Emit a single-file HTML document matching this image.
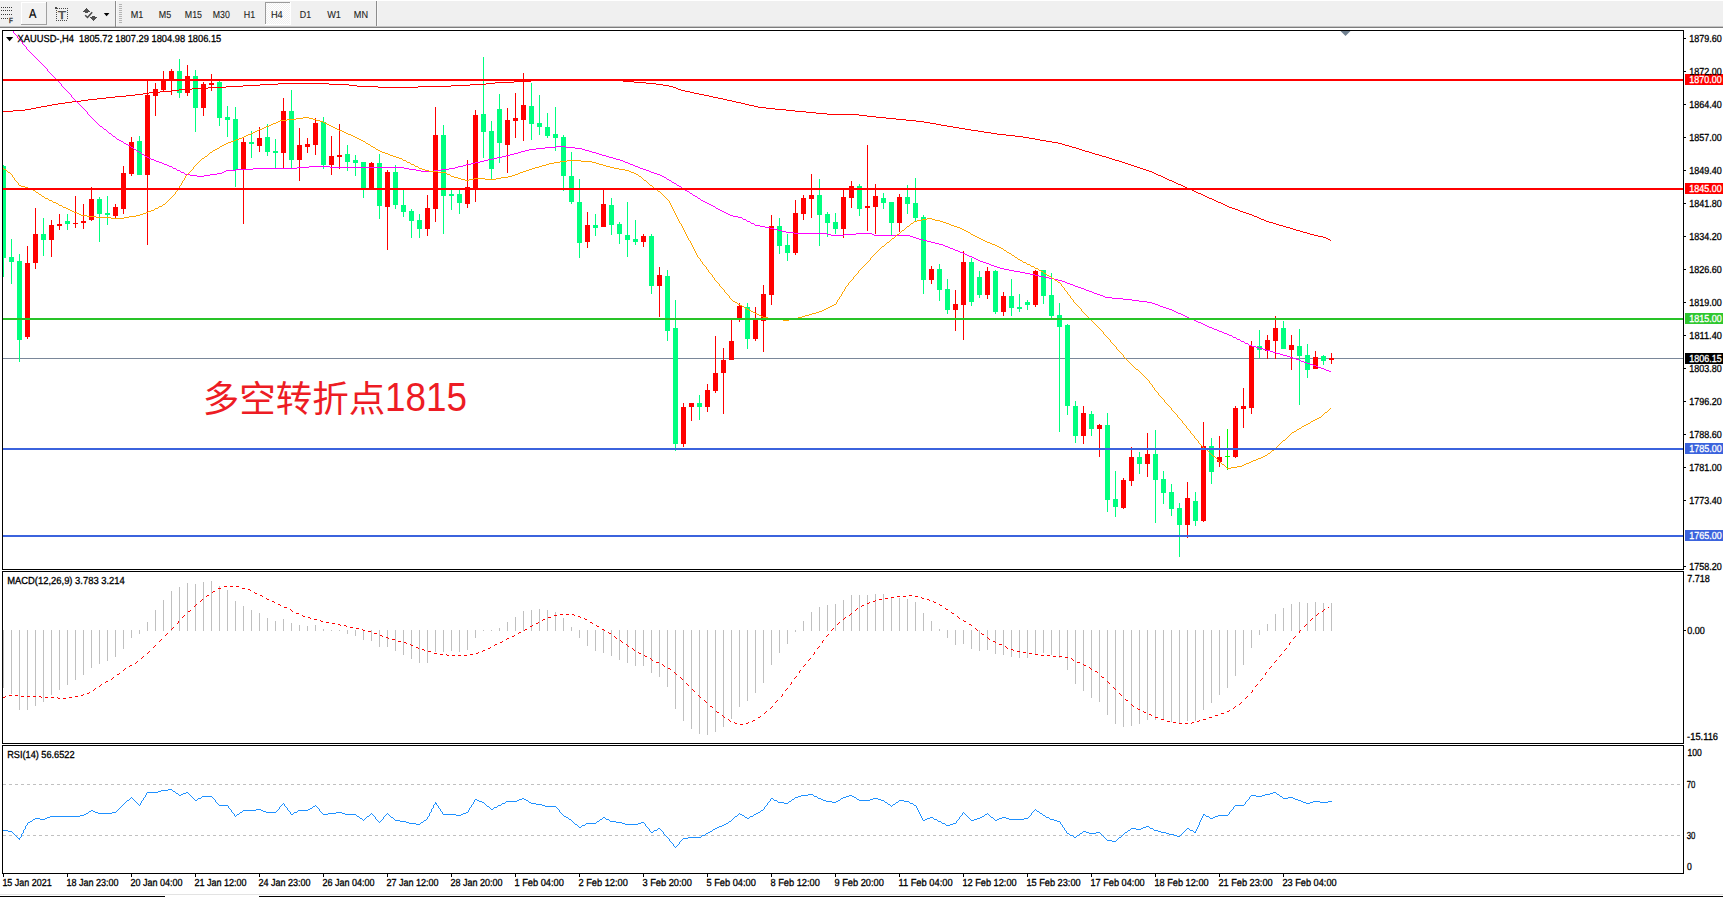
<!DOCTYPE html>
<html lang="zh">
<head>
<meta charset="utf-8">
<title>XAUUSD-,H4</title>
<style>
html,body{margin:0;padding:0;background:#fff;}
body{width:1723px;height:897px;overflow:hidden;}
svg{display:block;font-family:'Liberation Sans', 'Noto Sans CJK SC', sans-serif;}
</style>
</head>
<body>
<svg width="1723" height="897" viewBox="0 0 1723 897">
<defs><clipPath id="cm"><rect x="3" y="31" width="1680" height="538"/></clipPath>
<pattern id="chk" width="2" height="2" patternUnits="userSpaceOnUse"><rect width="2" height="2" fill="#ffffff"/><rect width="1" height="1" fill="#f0f0f0"/><rect x="1" y="1" width="1" height="1" fill="#f0f0f0"/></pattern></defs>
<g id="toolbar" shape-rendering="crispEdges">
<rect x="0" y="0" width="1723" height="1" fill="#ffffff"/>
<rect x="0" y="1" width="1723" height="25" fill="#f0f0f0"/>
<rect x="0" y="26" width="1723" height="1" fill="#c4c4c4"/>
<rect x="0" y="27" width="1723" height="1" fill="#7c7c7c"/>
<rect x="1" y="7" width="1" height="1" fill="#3c3c3c"/>
<rect x="3" y="7" width="1" height="1" fill="#3c3c3c"/>
<rect x="5" y="7" width="1" height="1" fill="#3c3c3c"/>
<rect x="7" y="7" width="1" height="1" fill="#3c3c3c"/>
<rect x="9" y="7" width="1" height="1" fill="#3c3c3c"/>
<rect x="11" y="7" width="1" height="1" fill="#3c3c3c"/>
<rect x="1" y="10" width="1" height="1" fill="#3c3c3c"/>
<rect x="3" y="10" width="1" height="1" fill="#3c3c3c"/>
<rect x="5" y="10" width="1" height="1" fill="#3c3c3c"/>
<rect x="7" y="10" width="1" height="1" fill="#3c3c3c"/>
<rect x="9" y="10" width="1" height="1" fill="#3c3c3c"/>
<rect x="11" y="10" width="1" height="1" fill="#3c3c3c"/>
<rect x="1" y="14" width="1" height="1" fill="#3c3c3c"/>
<rect x="3" y="14" width="1" height="1" fill="#3c3c3c"/>
<rect x="5" y="14" width="1" height="1" fill="#3c3c3c"/>
<rect x="7" y="14" width="1" height="1" fill="#3c3c3c"/>
<rect x="9" y="14" width="1" height="1" fill="#3c3c3c"/>
<rect x="11" y="14" width="1" height="1" fill="#3c3c3c"/>
<rect x="1" y="18" width="1" height="1" fill="#3c3c3c"/>
<rect x="3" y="18" width="1" height="1" fill="#3c3c3c"/>
<rect x="5" y="18" width="1" height="1" fill="#3c3c3c"/>
<rect x="7" y="18" width="1" height="1" fill="#3c3c3c"/>
<rect x="21" y="2" width="26" height="23" fill="#f2f2f2"/>
<rect x="21" y="2" width="26" height="1" fill="#ffffff"/>
<rect x="21" y="2" width="1" height="23" fill="#ffffff"/>
<rect x="21" y="24" width="26" height="1" fill="#a0a0a0"/>
<rect x="46" y="2" width="1" height="23" fill="#a0a0a0"/>
<rect x="59" y="8" width="1" height="1" fill="#4a4a4a"/>
<rect x="61" y="8" width="1" height="1" fill="#4a4a4a"/>
<rect x="63" y="8" width="1" height="1" fill="#4a4a4a"/>
<rect x="65" y="8" width="1" height="1" fill="#4a4a4a"/>
<rect x="67" y="8" width="1" height="1" fill="#4a4a4a"/>
<rect x="56" y="20" width="1" height="1" fill="#4a4a4a"/>
<rect x="58" y="20" width="1" height="1" fill="#4a4a4a"/>
<rect x="60" y="20" width="1" height="1" fill="#4a4a4a"/>
<rect x="62" y="20" width="1" height="1" fill="#4a4a4a"/>
<rect x="64" y="20" width="1" height="1" fill="#4a4a4a"/>
<rect x="66" y="20" width="1" height="1" fill="#4a4a4a"/>
<rect x="56" y="10" width="1" height="1" fill="#4a4a4a"/>
<rect x="67" y="10" width="1" height="1" fill="#4a4a4a"/>
<rect x="56" y="12" width="1" height="1" fill="#4a4a4a"/>
<rect x="67" y="12" width="1" height="1" fill="#4a4a4a"/>
<rect x="56" y="14" width="1" height="1" fill="#4a4a4a"/>
<rect x="67" y="14" width="1" height="1" fill="#4a4a4a"/>
<rect x="56" y="16" width="1" height="1" fill="#4a4a4a"/>
<rect x="67" y="16" width="1" height="1" fill="#4a4a4a"/>
<rect x="56" y="18" width="1" height="1" fill="#4a4a4a"/>
<rect x="67" y="18" width="1" height="1" fill="#4a4a4a"/>
<rect x="55" y="7" width="2" height="2" fill="#4a4a4a"/>
<rect x="57" y="8" width="1" height="1" fill="#4a4a4a"/>
<rect x="115" y="1" width="1" height="26" fill="#8c8c8c"/>
<rect x="116" y="1" width="1" height="25" fill="#f8f8f8"/>
<rect x="119" y="4" width="3" height="1" fill="#b4b4b4"/>
<rect x="119" y="6" width="3" height="1" fill="#b4b4b4"/>
<rect x="119" y="8" width="3" height="1" fill="#b4b4b4"/>
<rect x="119" y="10" width="3" height="1" fill="#b4b4b4"/>
<rect x="119" y="12" width="3" height="1" fill="#b4b4b4"/>
<rect x="119" y="14" width="3" height="1" fill="#b4b4b4"/>
<rect x="119" y="16" width="3" height="1" fill="#b4b4b4"/>
<rect x="119" y="18" width="3" height="1" fill="#b4b4b4"/>
<rect x="119" y="20" width="3" height="1" fill="#b4b4b4"/>
<rect x="119" y="22" width="3" height="1" fill="#b4b4b4"/>
<rect x="265" y="2" width="25" height="22" fill="url(#chk)"/>
<rect x="265" y="2" width="25" height="1" fill="#9a9a9a"/>
<rect x="265" y="2" width="1" height="22" fill="#9a9a9a"/>
<rect x="265" y="24" width="26" height="1" fill="#ffffff"/>
<rect x="290" y="2" width="1" height="23" fill="#ffffff"/>
<rect x="376" y="1" width="1" height="25" fill="#8c8c8c"/>
<rect x="377" y="1" width="1" height="25" fill="#f8f8f8"/>
</g>
<g shape-rendering="crispEdges">
<rect x="86" y="8" width="1" height="1" fill="#4f4f4f"/>
<rect x="85" y="9" width="3" height="1" fill="#4f4f4f"/>
<rect x="84" y="10" width="5" height="1" fill="#4f4f4f"/>
<rect x="83" y="11" width="7" height="1" fill="#4f4f4f"/>
<rect x="85" y="12" width="3" height="1" fill="#4f4f4f"/>
<rect x="92" y="16" width="3" height="1" fill="#4f4f4f"/>
<rect x="90" y="17" width="7" height="1" fill="#4f4f4f"/>
<rect x="91" y="18" width="5" height="1" fill="#4f4f4f"/>
<rect x="92" y="19" width="3" height="1" fill="#4f4f4f"/>
<rect x="93" y="20" width="1" height="1" fill="#4f4f4f"/>
</g>
<path d="M85.2 15.2 L87.5 17.5 L92.2 12.2" fill="none" stroke="#4a4a4a" stroke-width="1.5"/>
<path d="M103.8 13 L109.4 13 L106.6 16.2 Z" fill="#000"/>
<text transform="translate(28.90 18) scale(0.8534 1)" font-size="13" fill="#000" stroke="#000" stroke-width="0.2" text-rendering="geometricPrecision" xml:space="preserve">A</text>
<text transform="translate(9.10 23) scale(0.8638 1)" font-size="7.2" fill="#3c3c3c" stroke="#3c3c3c" stroke-width="0.45" text-rendering="geometricPrecision" xml:space="preserve">F</text>
<text transform="translate(58.10 19) scale(1.1342 1)" font-size="11.4" fill="#4a4a4a" stroke="#4a4a4a" stroke-width="0.5" text-rendering="geometricPrecision" xml:space="preserve">T</text>
<text transform="translate(130.80 18) scale(0.8893 1)" font-size="10.2" fill="#1c1c1c" stroke="#1c1c1c" stroke-width="0.1" text-rendering="geometricPrecision" xml:space="preserve">M1</text>
<text transform="translate(158.80 18) scale(0.8752 1)" font-size="10.2" fill="#1c1c1c" stroke="#1c1c1c" stroke-width="0.1" text-rendering="geometricPrecision" xml:space="preserve">M5</text>
<text transform="translate(184.80 18) scale(0.8670 1)" font-size="10.2" fill="#1c1c1c" stroke="#1c1c1c" stroke-width="0.1" text-rendering="geometricPrecision" xml:space="preserve">M15</text>
<text transform="translate(212.80 18) scale(0.8619 1)" font-size="10.2" fill="#1c1c1c" stroke="#1c1c1c" stroke-width="0.1" text-rendering="geometricPrecision" xml:space="preserve">M30</text>
<text transform="translate(243.70 18) scale(0.8745 1)" font-size="10.2" fill="#1c1c1c" stroke="#1c1c1c" stroke-width="0.1" text-rendering="geometricPrecision" xml:space="preserve">H1</text>
<text transform="translate(270.90 18) scale(0.9052 1)" font-size="10.2" fill="#1c1c1c" stroke="#1c1c1c" stroke-width="0.1" text-rendering="geometricPrecision" xml:space="preserve">H4</text>
<text transform="translate(299.80 18) scale(0.8669 1)" font-size="10.2" fill="#1c1c1c" stroke="#1c1c1c" stroke-width="0.1" text-rendering="geometricPrecision" xml:space="preserve">D1</text>
<text transform="translate(327.20 18) scale(0.9020 1)" font-size="10.2" fill="#1c1c1c" stroke="#1c1c1c" stroke-width="0.1" text-rendering="geometricPrecision" xml:space="preserve">W1</text>
<text transform="translate(353.80 18) scale(0.8953 1)" font-size="10.2" fill="#1c1c1c" stroke="#1c1c1c" stroke-width="0.1" text-rendering="geometricPrecision" xml:space="preserve">MN</text>
<g id="main" shape-rendering="crispEdges">
<rect x="0" y="28" width="1723" height="869" fill="#ffffff"/>
<rect x="3" y="358" width="1680" height="1" fill="#7a8799"/>
<g clip-path="url(#cm)">
<rect x="3" y="165" width="1" height="112" fill="#00ff7f"/>
<rect x="1" y="166" width="5" height="92" fill="#00ff7f"/>
<rect x="11" y="239" width="1" height="45" fill="#00ff7f"/>
<rect x="9" y="257" width="5" height="5" fill="#00ff7f"/>
<rect x="19" y="254" width="1" height="108" fill="#00ff7f"/>
<rect x="17" y="261" width="5" height="79" fill="#00ff7f"/>
<rect x="27" y="246" width="1" height="93" fill="#ff0000"/>
<rect x="25" y="263" width="5" height="74" fill="#ff0000"/>
<rect x="35" y="208" width="1" height="61" fill="#ff0000"/>
<rect x="33" y="234" width="5" height="29" fill="#ff0000"/>
<rect x="43" y="218" width="1" height="38" fill="#00ff7f"/>
<rect x="41" y="234" width="5" height="6" fill="#00ff7f"/>
<rect x="51" y="220" width="1" height="37" fill="#ff0000"/>
<rect x="49" y="225" width="5" height="15" fill="#ff0000"/>
<rect x="59" y="214" width="1" height="16" fill="#ff0000"/>
<rect x="57" y="224" width="5" height="2" fill="#ff0000"/>
<rect x="67" y="214" width="1" height="16" fill="#00ff7f"/>
<rect x="65" y="221" width="5" height="3" fill="#00ff7f"/>
<rect x="75" y="196" width="1" height="32" fill="#ff0000"/>
<rect x="73" y="223" width="5" height="1" fill="#ff0000"/>
<rect x="83" y="204" width="1" height="25" fill="#ff0000"/>
<rect x="81" y="221" width="5" height="2" fill="#ff0000"/>
<rect x="91" y="187" width="1" height="34" fill="#ff0000"/>
<rect x="89" y="199" width="5" height="21" fill="#ff0000"/>
<rect x="99" y="197" width="1" height="45" fill="#00ff7f"/>
<rect x="97" y="199" width="5" height="15" fill="#00ff7f"/>
<rect x="107" y="196" width="1" height="29" fill="#00ff7f"/>
<rect x="105" y="213" width="5" height="2" fill="#00ff7f"/>
<rect x="115" y="204" width="1" height="14" fill="#ff0000"/>
<rect x="113" y="207" width="5" height="9" fill="#ff0000"/>
<rect x="123" y="166" width="1" height="48" fill="#ff0000"/>
<rect x="121" y="173" width="5" height="36" fill="#ff0000"/>
<rect x="131" y="137" width="1" height="39" fill="#ff0000"/>
<rect x="129" y="142" width="5" height="32" fill="#ff0000"/>
<rect x="139" y="136" width="1" height="39" fill="#00ff7f"/>
<rect x="137" y="141" width="5" height="34" fill="#00ff7f"/>
<rect x="147" y="81" width="1" height="164" fill="#ff0000"/>
<rect x="145" y="95" width="5" height="80" fill="#ff0000"/>
<rect x="155" y="83" width="1" height="33" fill="#ff0000"/>
<rect x="153" y="89" width="5" height="7" fill="#ff0000"/>
<rect x="163" y="71" width="1" height="20" fill="#ff0000"/>
<rect x="161" y="80" width="5" height="10" fill="#ff0000"/>
<rect x="171" y="69" width="1" height="26" fill="#ff0000"/>
<rect x="169" y="71" width="5" height="9" fill="#ff0000"/>
<rect x="179" y="59" width="1" height="39" fill="#00ff7f"/>
<rect x="177" y="71" width="5" height="22" fill="#00ff7f"/>
<rect x="187" y="65" width="1" height="31" fill="#ff0000"/>
<rect x="185" y="76" width="5" height="17" fill="#ff0000"/>
<rect x="195" y="70" width="1" height="62" fill="#00ff7f"/>
<rect x="193" y="76" width="5" height="32" fill="#00ff7f"/>
<rect x="203" y="82" width="1" height="34" fill="#ff0000"/>
<rect x="201" y="84" width="5" height="24" fill="#ff0000"/>
<rect x="211" y="74" width="1" height="17" fill="#ff0000"/>
<rect x="209" y="83" width="5" height="2" fill="#ff0000"/>
<rect x="219" y="81" width="1" height="45" fill="#00ff7f"/>
<rect x="217" y="82" width="5" height="36" fill="#00ff7f"/>
<rect x="227" y="106" width="1" height="31" fill="#00ff7f"/>
<rect x="225" y="117" width="5" height="3" fill="#00ff7f"/>
<rect x="235" y="107" width="1" height="80" fill="#00ff7f"/>
<rect x="233" y="119" width="5" height="51" fill="#00ff7f"/>
<rect x="243" y="138" width="1" height="86" fill="#ff0000"/>
<rect x="241" y="142" width="5" height="28" fill="#ff0000"/>
<rect x="251" y="131" width="1" height="27" fill="#00ff7f"/>
<rect x="249" y="142" width="5" height="2" fill="#00ff7f"/>
<rect x="259" y="127" width="1" height="25" fill="#ff0000"/>
<rect x="257" y="138" width="5" height="8" fill="#ff0000"/>
<rect x="267" y="124" width="1" height="32" fill="#00ff7f"/>
<rect x="265" y="137" width="5" height="15" fill="#00ff7f"/>
<rect x="275" y="139" width="1" height="30" fill="#00ff7f"/>
<rect x="273" y="151" width="5" height="2" fill="#00ff7f"/>
<rect x="283" y="98" width="1" height="70" fill="#ff0000"/>
<rect x="281" y="111" width="5" height="42" fill="#ff0000"/>
<rect x="291" y="90" width="1" height="79" fill="#00ff7f"/>
<rect x="289" y="111" width="5" height="49" fill="#00ff7f"/>
<rect x="299" y="128" width="1" height="53" fill="#ff0000"/>
<rect x="297" y="145" width="5" height="15" fill="#ff0000"/>
<rect x="307" y="138" width="1" height="15" fill="#ff0000"/>
<rect x="305" y="144" width="5" height="3" fill="#ff0000"/>
<rect x="315" y="118" width="1" height="37" fill="#ff0000"/>
<rect x="313" y="123" width="5" height="22" fill="#ff0000"/>
<rect x="323" y="117" width="1" height="52" fill="#00ff7f"/>
<rect x="321" y="122" width="5" height="43" fill="#00ff7f"/>
<rect x="331" y="136" width="1" height="39" fill="#ff0000"/>
<rect x="329" y="156" width="5" height="9" fill="#ff0000"/>
<rect x="339" y="124" width="1" height="45" fill="#ff0000"/>
<rect x="337" y="155" width="5" height="2" fill="#ff0000"/>
<rect x="347" y="145" width="1" height="26" fill="#00ff7f"/>
<rect x="345" y="154" width="5" height="8" fill="#00ff7f"/>
<rect x="355" y="155" width="1" height="21" fill="#00ff7f"/>
<rect x="353" y="160" width="5" height="3" fill="#00ff7f"/>
<rect x="363" y="162" width="1" height="36" fill="#00ff7f"/>
<rect x="361" y="162" width="5" height="26" fill="#00ff7f"/>
<rect x="371" y="162" width="1" height="27" fill="#ff0000"/>
<rect x="369" y="163" width="5" height="26" fill="#ff0000"/>
<rect x="379" y="154" width="1" height="65" fill="#00ff7f"/>
<rect x="377" y="163" width="5" height="43" fill="#00ff7f"/>
<rect x="387" y="170" width="1" height="80" fill="#ff0000"/>
<rect x="385" y="172" width="5" height="35" fill="#ff0000"/>
<rect x="395" y="165" width="1" height="44" fill="#00ff7f"/>
<rect x="393" y="172" width="5" height="33" fill="#00ff7f"/>
<rect x="403" y="190" width="1" height="27" fill="#00ff7f"/>
<rect x="401" y="205" width="5" height="7" fill="#00ff7f"/>
<rect x="411" y="209" width="1" height="29" fill="#00ff7f"/>
<rect x="409" y="211" width="5" height="10" fill="#00ff7f"/>
<rect x="419" y="214" width="1" height="24" fill="#00ff7f"/>
<rect x="417" y="220" width="5" height="9" fill="#00ff7f"/>
<rect x="427" y="195" width="1" height="41" fill="#ff0000"/>
<rect x="425" y="208" width="5" height="21" fill="#ff0000"/>
<rect x="435" y="107" width="1" height="115" fill="#ff0000"/>
<rect x="433" y="135" width="5" height="74" fill="#ff0000"/>
<rect x="443" y="125" width="1" height="109" fill="#00ff7f"/>
<rect x="441" y="135" width="5" height="61" fill="#00ff7f"/>
<rect x="451" y="190" width="1" height="20" fill="#00ff7f"/>
<rect x="449" y="194" width="5" height="2" fill="#00ff7f"/>
<rect x="459" y="190" width="1" height="24" fill="#00ff7f"/>
<rect x="457" y="194" width="5" height="9" fill="#00ff7f"/>
<rect x="467" y="160" width="1" height="48" fill="#ff0000"/>
<rect x="465" y="187" width="5" height="17" fill="#ff0000"/>
<rect x="475" y="110" width="1" height="92" fill="#ff0000"/>
<rect x="473" y="115" width="5" height="74" fill="#ff0000"/>
<rect x="483" y="57" width="1" height="101" fill="#00ff7f"/>
<rect x="481" y="114" width="5" height="18" fill="#00ff7f"/>
<rect x="491" y="121" width="1" height="58" fill="#00ff7f"/>
<rect x="489" y="131" width="5" height="38" fill="#00ff7f"/>
<rect x="499" y="94" width="1" height="69" fill="#00ff7f"/>
<rect x="497" y="109" width="5" height="34" fill="#00ff7f"/>
<rect x="507" y="108" width="1" height="65" fill="#ff0000"/>
<rect x="505" y="120" width="5" height="25" fill="#ff0000"/>
<rect x="515" y="93" width="1" height="45" fill="#ff0000"/>
<rect x="513" y="118" width="5" height="3" fill="#ff0000"/>
<rect x="523" y="73" width="1" height="68" fill="#ff0000"/>
<rect x="521" y="105" width="5" height="15" fill="#ff0000"/>
<rect x="531" y="83" width="1" height="57" fill="#00ff7f"/>
<rect x="529" y="106" width="5" height="18" fill="#00ff7f"/>
<rect x="539" y="95" width="1" height="40" fill="#00ff7f"/>
<rect x="537" y="123" width="5" height="4" fill="#00ff7f"/>
<rect x="547" y="113" width="1" height="25" fill="#00ff7f"/>
<rect x="545" y="127" width="5" height="9" fill="#00ff7f"/>
<rect x="555" y="107" width="1" height="44" fill="#00ff7f"/>
<rect x="553" y="134" width="5" height="4" fill="#00ff7f"/>
<rect x="563" y="135" width="1" height="56" fill="#00ff7f"/>
<rect x="561" y="137" width="5" height="39" fill="#00ff7f"/>
<rect x="571" y="152" width="1" height="52" fill="#00ff7f"/>
<rect x="569" y="176" width="5" height="26" fill="#00ff7f"/>
<rect x="579" y="179" width="1" height="79" fill="#00ff7f"/>
<rect x="577" y="202" width="5" height="41" fill="#00ff7f"/>
<rect x="587" y="212" width="1" height="36" fill="#ff0000"/>
<rect x="585" y="225" width="5" height="17" fill="#ff0000"/>
<rect x="595" y="214" width="1" height="22" fill="#00ff7f"/>
<rect x="593" y="225" width="5" height="3" fill="#00ff7f"/>
<rect x="603" y="190" width="1" height="37" fill="#ff0000"/>
<rect x="601" y="204" width="5" height="23" fill="#ff0000"/>
<rect x="611" y="198" width="1" height="37" fill="#00ff7f"/>
<rect x="609" y="205" width="5" height="20" fill="#00ff7f"/>
<rect x="619" y="222" width="1" height="22" fill="#00ff7f"/>
<rect x="617" y="224" width="5" height="10" fill="#00ff7f"/>
<rect x="627" y="202" width="1" height="55" fill="#00ff7f"/>
<rect x="625" y="235" width="5" height="5" fill="#00ff7f"/>
<rect x="635" y="220" width="1" height="25" fill="#00ff7f"/>
<rect x="633" y="239" width="5" height="3" fill="#00ff7f"/>
<rect x="643" y="234" width="1" height="13" fill="#ff0000"/>
<rect x="641" y="236" width="5" height="6" fill="#ff0000"/>
<rect x="651" y="234" width="1" height="60" fill="#00ff7f"/>
<rect x="649" y="236" width="5" height="50" fill="#00ff7f"/>
<rect x="659" y="267" width="1" height="50" fill="#ff0000"/>
<rect x="657" y="275" width="5" height="11" fill="#ff0000"/>
<rect x="667" y="270" width="1" height="71" fill="#00ff7f"/>
<rect x="665" y="276" width="5" height="55" fill="#00ff7f"/>
<rect x="675" y="300" width="1" height="151" fill="#00ff7f"/>
<rect x="673" y="328" width="5" height="116" fill="#00ff7f"/>
<rect x="683" y="403" width="1" height="44" fill="#ff0000"/>
<rect x="681" y="407" width="5" height="37" fill="#ff0000"/>
<rect x="691" y="403" width="1" height="18" fill="#ff0000"/>
<rect x="689" y="403" width="5" height="4" fill="#ff0000"/>
<rect x="699" y="395" width="1" height="25" fill="#00ff7f"/>
<rect x="697" y="403" width="5" height="4" fill="#00ff7f"/>
<rect x="707" y="384" width="1" height="28" fill="#ff0000"/>
<rect x="705" y="390" width="5" height="17" fill="#ff0000"/>
<rect x="715" y="336" width="1" height="57" fill="#ff0000"/>
<rect x="713" y="373" width="5" height="18" fill="#ff0000"/>
<rect x="723" y="348" width="1" height="66" fill="#ff0000"/>
<rect x="721" y="360" width="5" height="13" fill="#ff0000"/>
<rect x="731" y="320" width="1" height="40" fill="#ff0000"/>
<rect x="729" y="341" width="5" height="19" fill="#ff0000"/>
<rect x="739" y="303" width="1" height="19" fill="#ff0000"/>
<rect x="737" y="306" width="5" height="13" fill="#ff0000"/>
<rect x="747" y="303" width="1" height="46" fill="#00ff7f"/>
<rect x="745" y="307" width="5" height="32" fill="#00ff7f"/>
<rect x="755" y="307" width="1" height="34" fill="#ff0000"/>
<rect x="753" y="320" width="5" height="19" fill="#ff0000"/>
<rect x="763" y="285" width="1" height="67" fill="#ff0000"/>
<rect x="761" y="294" width="5" height="27" fill="#ff0000"/>
<rect x="771" y="215" width="1" height="90" fill="#ff0000"/>
<rect x="769" y="226" width="5" height="69" fill="#ff0000"/>
<rect x="779" y="218" width="1" height="36" fill="#00ff7f"/>
<rect x="777" y="226" width="5" height="20" fill="#00ff7f"/>
<rect x="787" y="234" width="1" height="27" fill="#00ff7f"/>
<rect x="785" y="245" width="5" height="8" fill="#00ff7f"/>
<rect x="795" y="200" width="1" height="55" fill="#ff0000"/>
<rect x="793" y="213" width="5" height="40" fill="#ff0000"/>
<rect x="803" y="195" width="1" height="25" fill="#ff0000"/>
<rect x="801" y="198" width="5" height="16" fill="#ff0000"/>
<rect x="811" y="174" width="1" height="44" fill="#ff0000"/>
<rect x="809" y="195" width="5" height="4" fill="#ff0000"/>
<rect x="819" y="179" width="1" height="67" fill="#00ff7f"/>
<rect x="817" y="195" width="5" height="20" fill="#00ff7f"/>
<rect x="827" y="212" width="1" height="25" fill="#00ff7f"/>
<rect x="825" y="214" width="5" height="9" fill="#00ff7f"/>
<rect x="835" y="213" width="1" height="21" fill="#00ff7f"/>
<rect x="833" y="222" width="5" height="7" fill="#00ff7f"/>
<rect x="843" y="190" width="1" height="48" fill="#ff0000"/>
<rect x="841" y="197" width="5" height="32" fill="#ff0000"/>
<rect x="851" y="181" width="1" height="27" fill="#ff0000"/>
<rect x="849" y="186" width="5" height="12" fill="#ff0000"/>
<rect x="859" y="184" width="1" height="32" fill="#00ff7f"/>
<rect x="857" y="186" width="5" height="23" fill="#00ff7f"/>
<rect x="867" y="145" width="1" height="86" fill="#ff0000"/>
<rect x="865" y="206" width="5" height="2" fill="#ff0000"/>
<rect x="875" y="184" width="1" height="50" fill="#ff0000"/>
<rect x="873" y="196" width="5" height="11" fill="#ff0000"/>
<rect x="883" y="193" width="1" height="16" fill="#00ff7f"/>
<rect x="881" y="198" width="5" height="5" fill="#00ff7f"/>
<rect x="891" y="202" width="1" height="34" fill="#00ff7f"/>
<rect x="889" y="202" width="5" height="21" fill="#00ff7f"/>
<rect x="899" y="194" width="1" height="38" fill="#ff0000"/>
<rect x="897" y="197" width="5" height="26" fill="#ff0000"/>
<rect x="907" y="185" width="1" height="29" fill="#00ff7f"/>
<rect x="905" y="197" width="5" height="7" fill="#00ff7f"/>
<rect x="915" y="178" width="1" height="43" fill="#00ff7f"/>
<rect x="913" y="203" width="5" height="15" fill="#00ff7f"/>
<rect x="923" y="215" width="1" height="79" fill="#00ff7f"/>
<rect x="921" y="217" width="5" height="63" fill="#00ff7f"/>
<rect x="931" y="266" width="1" height="18" fill="#ff0000"/>
<rect x="929" y="269" width="5" height="11" fill="#ff0000"/>
<rect x="939" y="264" width="1" height="37" fill="#00ff7f"/>
<rect x="937" y="269" width="5" height="21" fill="#00ff7f"/>
<rect x="947" y="279" width="1" height="35" fill="#00ff7f"/>
<rect x="945" y="289" width="5" height="21" fill="#00ff7f"/>
<rect x="955" y="290" width="1" height="41" fill="#ff0000"/>
<rect x="953" y="304" width="5" height="6" fill="#ff0000"/>
<rect x="963" y="251" width="1" height="89" fill="#ff0000"/>
<rect x="961" y="262" width="5" height="43" fill="#ff0000"/>
<rect x="971" y="258" width="1" height="48" fill="#00ff7f"/>
<rect x="969" y="262" width="5" height="40" fill="#00ff7f"/>
<rect x="979" y="271" width="1" height="27" fill="#00ff7f"/>
<rect x="977" y="277" width="5" height="18" fill="#00ff7f"/>
<rect x="987" y="267" width="1" height="32" fill="#ff0000"/>
<rect x="985" y="271" width="5" height="24" fill="#ff0000"/>
<rect x="995" y="270" width="1" height="44" fill="#00ff7f"/>
<rect x="993" y="271" width="5" height="41" fill="#00ff7f"/>
<rect x="1003" y="292" width="1" height="24" fill="#ff0000"/>
<rect x="1001" y="296" width="5" height="16" fill="#ff0000"/>
<rect x="1011" y="279" width="1" height="37" fill="#00ff7f"/>
<rect x="1009" y="296" width="5" height="12" fill="#00ff7f"/>
<rect x="1019" y="294" width="1" height="18" fill="#00ff7f"/>
<rect x="1017" y="307" width="5" height="2" fill="#00ff7f"/>
<rect x="1027" y="300" width="1" height="10" fill="#00ff7f"/>
<rect x="1025" y="302" width="5" height="3" fill="#00ff7f"/>
<rect x="1035" y="270" width="1" height="37" fill="#ff0000"/>
<rect x="1033" y="271" width="5" height="34" fill="#ff0000"/>
<rect x="1043" y="270" width="1" height="34" fill="#00ff7f"/>
<rect x="1041" y="270" width="5" height="26" fill="#00ff7f"/>
<rect x="1051" y="273" width="1" height="45" fill="#00ff7f"/>
<rect x="1049" y="295" width="5" height="21" fill="#00ff7f"/>
<rect x="1059" y="303" width="1" height="129" fill="#00ff7f"/>
<rect x="1057" y="315" width="5" height="12" fill="#00ff7f"/>
<rect x="1067" y="324" width="1" height="91" fill="#00ff7f"/>
<rect x="1065" y="325" width="5" height="81" fill="#00ff7f"/>
<rect x="1075" y="401" width="1" height="42" fill="#00ff7f"/>
<rect x="1073" y="406" width="5" height="30" fill="#00ff7f"/>
<rect x="1083" y="406" width="1" height="38" fill="#ff0000"/>
<rect x="1081" y="413" width="5" height="23" fill="#ff0000"/>
<rect x="1091" y="411" width="1" height="25" fill="#00ff7f"/>
<rect x="1089" y="414" width="5" height="15" fill="#00ff7f"/>
<rect x="1099" y="424" width="1" height="33" fill="#ff0000"/>
<rect x="1097" y="425" width="5" height="4" fill="#ff0000"/>
<rect x="1107" y="413" width="1" height="99" fill="#00ff7f"/>
<rect x="1105" y="425" width="5" height="75" fill="#00ff7f"/>
<rect x="1115" y="471" width="1" height="46" fill="#00ff7f"/>
<rect x="1113" y="499" width="5" height="8" fill="#00ff7f"/>
<rect x="1123" y="478" width="1" height="31" fill="#ff0000"/>
<rect x="1121" y="480" width="5" height="28" fill="#ff0000"/>
<rect x="1131" y="447" width="1" height="39" fill="#ff0000"/>
<rect x="1129" y="457" width="5" height="24" fill="#ff0000"/>
<rect x="1139" y="452" width="1" height="22" fill="#00ff7f"/>
<rect x="1137" y="457" width="5" height="7" fill="#00ff7f"/>
<rect x="1147" y="433" width="1" height="44" fill="#ff0000"/>
<rect x="1145" y="454" width="5" height="10" fill="#ff0000"/>
<rect x="1155" y="430" width="1" height="93" fill="#00ff7f"/>
<rect x="1153" y="454" width="5" height="26" fill="#00ff7f"/>
<rect x="1163" y="471" width="1" height="33" fill="#00ff7f"/>
<rect x="1161" y="479" width="5" height="14" fill="#00ff7f"/>
<rect x="1171" y="484" width="1" height="32" fill="#00ff7f"/>
<rect x="1169" y="492" width="5" height="17" fill="#00ff7f"/>
<rect x="1179" y="503" width="1" height="54" fill="#00ff7f"/>
<rect x="1177" y="508" width="5" height="17" fill="#00ff7f"/>
<rect x="1187" y="482" width="1" height="56" fill="#ff0000"/>
<rect x="1185" y="498" width="5" height="27" fill="#ff0000"/>
<rect x="1195" y="492" width="1" height="34" fill="#00ff7f"/>
<rect x="1193" y="501" width="5" height="20" fill="#00ff7f"/>
<rect x="1203" y="422" width="1" height="100" fill="#ff0000"/>
<rect x="1201" y="446" width="5" height="75" fill="#ff0000"/>
<rect x="1211" y="438" width="1" height="46" fill="#00ff7f"/>
<rect x="1209" y="446" width="5" height="26" fill="#00ff7f"/>
<rect x="1219" y="436" width="1" height="31" fill="#ff0000"/>
<rect x="1217" y="457" width="5" height="5" fill="#ff0000"/>
<rect x="1227" y="429" width="1" height="41" fill="#00ff00"/>
<rect x="1225" y="456" width="5" height="1" fill="#00ff00"/>
<rect x="1235" y="406" width="1" height="52" fill="#ff0000"/>
<rect x="1233" y="408" width="5" height="49" fill="#ff0000"/>
<rect x="1243" y="388" width="1" height="40" fill="#ff0000"/>
<rect x="1241" y="406" width="5" height="3" fill="#ff0000"/>
<rect x="1251" y="341" width="1" height="73" fill="#ff0000"/>
<rect x="1249" y="346" width="5" height="62" fill="#ff0000"/>
<rect x="1259" y="330" width="1" height="28" fill="#00ff7f"/>
<rect x="1257" y="346" width="5" height="4" fill="#00ff7f"/>
<rect x="1267" y="335" width="1" height="24" fill="#ff0000"/>
<rect x="1265" y="340" width="5" height="11" fill="#ff0000"/>
<rect x="1275" y="316" width="1" height="43" fill="#ff0000"/>
<rect x="1273" y="328" width="5" height="13" fill="#ff0000"/>
<rect x="1283" y="321" width="1" height="28" fill="#00ff7f"/>
<rect x="1281" y="328" width="5" height="21" fill="#00ff7f"/>
<rect x="1291" y="335" width="1" height="35" fill="#ff0000"/>
<rect x="1289" y="345" width="5" height="5" fill="#ff0000"/>
<rect x="1299" y="329" width="1" height="76" fill="#00ff7f"/>
<rect x="1297" y="346" width="5" height="10" fill="#00ff7f"/>
<rect x="1307" y="344" width="1" height="34" fill="#00ff7f"/>
<rect x="1305" y="355" width="5" height="15" fill="#00ff7f"/>
<rect x="1315" y="351" width="1" height="18" fill="#ff0000"/>
<rect x="1313" y="357" width="5" height="12" fill="#ff0000"/>
<rect x="1323" y="355" width="1" height="10" fill="#00ff7f"/>
<rect x="1321" y="356" width="5" height="5" fill="#00ff7f"/>
<rect x="1331" y="353" width="1" height="11" fill="#ff0000"/>
<rect x="1329" y="358" width="5" height="2" fill="#ff0000"/>
</g>
<g clip-path="url(#cm)">
<path d="M531 80h92v1h-92zM514 81h17v1h-17zM623 81h11v1h-11zM495 82h19v1h-19zM634 82h12v1h-12zM278 83h51v1h-51zM486 83h9v1h-9zM646 83h10v1h-10zM260 84h18v1h-18zM329 84h20v1h-20zM470 84h16v1h-16zM656 84h7v1h-7zM243 85h17v1h-17zM349 85h8v1h-8zM451 85h19v1h-19zM663 85h6v1h-6zM226 86h17v1h-17zM357 86h21v1h-21zM418 86h33v1h-33zM669 86h4v1h-4zM208 87h18v1h-18zM378 87h40v1h-40zM673 87h3v1h-3zM192 88h16v1h-16zM676 88h2v1h-2zM179 89h13v1h-13zM678 89h3v1h-3zM172 90h7v1h-7zM681 90h4v1h-4zM160 91h12v1h-12zM685 91h5v1h-5zM149 92h11v1h-11zM690 92h4v1h-4zM143 93h6v1h-6zM694 93h5v1h-5zM135 94h8v1h-8zM699 94h5v1h-5zM126 95h9v1h-9zM704 95h5v1h-5zM115 96h11v1h-11zM709 96h4v1h-4zM106 97h9v1h-9zM713 97h5v1h-5zM97 98h9v1h-9zM718 98h5v1h-5zM88 99h9v1h-9zM723 99h4v1h-4zM81 100h7v1h-7zM727 100h5v1h-5zM72 101h9v1h-9zM732 101h4v1h-4zM65 102h7v1h-7zM736 102h5v1h-5zM58 103h7v1h-7zM741 103h4v1h-4zM52 104h6v1h-6zM745 104h4v1h-4zM47 105h5v1h-5zM749 105h5v1h-5zM41 106h6v1h-6zM754 106h4v1h-4zM36 107h5v1h-5zM758 107h8v1h-8zM31 108h5v1h-5zM766 108h9v1h-9zM25 109h6v1h-6zM775 109h11v1h-11zM13 110h12v1h-12zM786 110h9v1h-9zM3 111h10v1h-10zM795 111h11v1h-11zM806 112h10v1h-10zM816 113h11v1h-11zM827 114h32v1h-32zM859 115h8v1h-8zM867 116h9v1h-9zM876 117h10v1h-10zM886 118h10v1h-10zM896 119h10v1h-10zM906 120h10v1h-10zM916 121h8v1h-8zM924 122h6v1h-6zM930 123h6v1h-6zM936 124h5v1h-5zM941 125h6v1h-6zM947 126h6v1h-6zM953 127h6v1h-6zM959 128h6v1h-6zM965 129h6v1h-6zM971 130h7v1h-7zM978 131h6v1h-6zM984 132h7v1h-7zM991 133h6v1h-6zM997 134h9v1h-9zM1006 135h9v1h-9zM1015 136h8v1h-8zM1023 137h6v1h-6zM1029 138h6v1h-6zM1035 139h5v1h-5zM1040 140h6v1h-6zM1046 141h6v1h-6zM1052 142h6v1h-6zM1058 143h4v1h-4zM1062 144h3v1h-3zM1065 145h4v1h-4zM1069 146h3v1h-3zM1072 147h4v1h-4zM1076 148h3v1h-3zM1079 149h3v1h-3zM1082 150h3v1h-3zM1085 151h4v1h-4zM1089 152h3v1h-3zM1092 153h3v1h-3zM1095 154h4v1h-4zM1099 155h3v1h-3zM1102 156h4v1h-4zM1106 157h3v1h-3zM1109 158h3v1h-3zM1112 159h3v1h-3zM1115 160h4v1h-4zM1119 161h3v1h-3zM1122 162h3v1h-3zM1125 163h3v1h-3zM1128 164h3v1h-3zM1131 165h3v1h-3zM1134 166h3v1h-3zM1137 167h3v1h-3zM1140 168h3v1h-3zM1143 169h3v1h-3zM1146 170h3v1h-3zM1149 171h3v1h-3zM1152 172h2v1h-2zM1154 173h2v1h-2zM1156 174h2v1h-2zM1158 175h3v1h-3zM1161 176h2v1h-2zM1163 177h2v1h-2zM1165 178h2v1h-2zM1167 179h2v1h-2zM1169 180h3v1h-3zM1172 181h2v1h-2zM1174 182h2v1h-2zM1176 183h2v1h-2zM1178 184h3v1h-3zM1181 185h2v1h-2zM1183 186h2v1h-2zM1185 187h2v1h-2zM1187 188h3v1h-3zM1190 189h2v1h-2zM1192 190h2v1h-2zM1194 191h2v1h-2zM1196 192h2v1h-2zM1198 193h3v1h-3zM1201 194h2v1h-2zM1203 195h2v1h-2zM1205 196h2v1h-2zM1207 197h2v1h-2zM1209 198h3v1h-3zM1212 199h2v1h-2zM1214 200h2v1h-2zM1216 201h2v1h-2zM1218 202h3v1h-3zM1221 203h2v1h-2zM1223 204h2v1h-2zM1225 205h2v1h-2zM1227 206h2v1h-2zM1229 207h3v1h-3zM1232 208h3v1h-3zM1235 209h3v1h-3zM1238 210h2v1h-2zM1240 211h3v1h-3zM1243 212h3v1h-3zM1246 213h3v1h-3zM1249 214h3v1h-3zM1252 215h2v1h-2zM1254 216h3v1h-3zM1257 217h2v1h-2zM1259 218h2v1h-2zM1261 219h3v1h-3zM1264 220h2v1h-2zM1266 221h3v1h-3zM1269 222h4v1h-4zM1273 223h3v1h-3zM1276 224h3v1h-3zM1279 225h4v1h-4zM1283 226h3v1h-3zM1286 227h4v1h-4zM1290 228h3v1h-3zM1293 229h3v1h-3zM1296 230h4v1h-4zM1300 231h3v1h-3zM1303 232h4v1h-4zM1307 233h3v1h-3zM1310 234h4v1h-4zM1314 235h4v1h-4zM1318 236h5v1h-5zM1323 237h3v1h-3zM1326 238h2v1h-2zM1328 239h2v1h-2zM1330 240h1v1h-1z" fill="#ff0000"/>
<path d="M11 29h1v1h-1zM12 30h1v1h-1zM13 31h1v1h-1zM13 32h1v1h-1zM14 33h1v1h-1zM15 34h1v1h-1zM16 35h1v1h-1zM17 36h1v1h-1zM17 37h1v1h-1zM18 38h1v1h-1zM19 39h1v1h-1zM20 40h1v1h-1zM21 41h1v1h-1zM22 42h1v1h-1zM22 43h1v1h-1zM23 44h1v1h-1zM24 45h1v1h-1zM25 46h1v1h-1zM26 47h1v1h-1zM26 48h1v1h-1zM27 49h1v1h-1zM28 50h1v1h-1zM29 51h1v1h-1zM30 52h1v1h-1zM31 53h1v1h-1zM32 54h1v1h-1zM33 55h1v1h-1zM34 56h1v1h-1zM35 57h1v1h-1zM36 58h1v1h-1zM37 59h1v1h-1zM38 60h1v1h-1zM39 61h1v1h-1zM40 62h1v1h-1zM41 63h1v1h-1zM42 64h1v1h-1zM43 65h1v1h-1zM44 66h1v1h-1zM45 67h1v1h-1zM46 68h1v1h-1zM47 69h1v1h-1zM47 70h1v1h-1zM48 71h1v1h-1zM49 72h1v1h-1zM50 73h1v1h-1zM51 74h1v1h-1zM52 75h1v1h-1zM53 76h1v1h-1zM54 77h1v1h-1zM55 78h1v1h-1zM56 79h1v1h-1zM57 80h1v1h-1zM58 81h1v1h-1zM59 82h1v1h-1zM60 83h1v1h-1zM61 84h1v1h-1zM61 85h1v1h-1zM62 86h1v1h-1zM63 87h1v1h-1zM64 88h1v1h-1zM65 89h1v1h-1zM66 90h1v1h-1zM67 91h1v1h-1zM68 92h1v1h-1zM69 93h1v1h-1zM70 94h1v1h-1zM71 95h1v1h-1zM71 96h1v1h-1zM72 97h1v1h-1zM73 98h1v1h-1zM74 99h1v1h-1zM75 100h1v1h-1zM76 101h1v1h-1zM77 102h1v1h-1zM78 103h1v1h-1zM79 104h1v1h-1zM80 105h1v1h-1zM81 106h1v1h-1zM82 107h1v1h-1zM83 108h1v1h-1zM84 109h1v1h-1zM85 110h1v1h-1zM86 111h1v1h-1zM87 112h1v1h-1zM87 113h1v1h-1zM88 114h1v1h-1zM89 115h1v1h-1zM90 116h1v1h-1zM91 117h1v1h-1zM92 118h1v1h-1zM93 119h1v1h-1zM94 120h1v1h-1zM95 121h1v1h-1zM96 122h1v1h-1zM97 123h1v1h-1zM98 124h1v1h-1zM99 125h1v1h-1zM100 126h2v1h-2zM102 127h1v1h-1zM103 128h1v1h-1zM104 129h2v1h-2zM106 130h1v1h-1zM107 131h1v1h-1zM108 132h1v1h-1zM109 133h2v1h-2zM111 134h1v1h-1zM112 135h1v1h-1zM113 136h2v1h-2zM115 137h1v1h-1zM116 138h1v1h-1zM117 139h2v1h-2zM119 140h2v1h-2zM121 141h2v1h-2zM123 142h1v1h-1zM124 143h2v1h-2zM126 144h2v1h-2zM128 145h2v1h-2zM130 146h1v1h-1zM556 146h10v1h-10zM131 147h2v1h-2zM545 147h11v1h-11zM566 147h9v1h-9zM133 148h1v1h-1zM536 148h9v1h-9zM575 148h7v1h-7zM134 149h2v1h-2zM529 149h7v1h-7zM582 149h3v1h-3zM136 150h1v1h-1zM525 150h4v1h-4zM585 150h4v1h-4zM137 151h2v1h-2zM521 151h4v1h-4zM589 151h3v1h-3zM139 152h2v1h-2zM518 152h3v1h-3zM592 152h4v1h-4zM141 153h1v1h-1zM514 153h4v1h-4zM596 153h3v1h-3zM142 154h2v1h-2zM510 154h4v1h-4zM599 154h3v1h-3zM144 155h1v1h-1zM506 155h4v1h-4zM602 155h4v1h-4zM145 156h2v1h-2zM502 156h4v1h-4zM606 156h3v1h-3zM147 157h2v1h-2zM497 157h5v1h-5zM609 157h4v1h-4zM149 158h2v1h-2zM493 158h4v1h-4zM613 158h3v1h-3zM151 159h3v1h-3zM488 159h5v1h-5zM616 159h4v1h-4zM154 160h2v1h-2zM484 160h4v1h-4zM620 160h3v1h-3zM156 161h3v1h-3zM480 161h4v1h-4zM623 161h2v1h-2zM159 162h3v1h-3zM475 162h5v1h-5zM625 162h3v1h-3zM162 163h2v1h-2zM471 163h4v1h-4zM628 163h2v1h-2zM164 164h3v1h-3zM466 164h5v1h-5zM630 164h3v1h-3zM167 165h2v1h-2zM463 165h3v1h-3zM633 165h2v1h-2zM169 166h3v1h-3zM309 166h21v1h-21zM458 166h5v1h-5zM635 166h3v1h-3zM172 167h1v1h-1zM297 167h12v1h-12zM330 167h74v1h-74zM455 167h3v1h-3zM638 167h2v1h-2zM173 168h3v1h-3zM253 168h44v1h-44zM404 168h5v1h-5zM449 168h6v1h-6zM640 168h3v1h-3zM176 169h1v1h-1zM236 169h17v1h-17zM409 169h7v1h-7zM441 169h8v1h-8zM643 169h3v1h-3zM177 170h3v1h-3zM226 170h10v1h-10zM416 170h5v1h-5zM434 170h7v1h-7zM646 170h3v1h-3zM180 171h1v1h-1zM224 171h2v1h-2zM421 171h13v1h-13zM649 171h2v1h-2zM181 172h3v1h-3zM222 172h2v1h-2zM651 172h3v1h-3zM184 173h1v1h-1zM217 173h5v1h-5zM654 173h3v1h-3zM185 174h5v1h-5zM210 174h7v1h-7zM657 174h3v1h-3zM190 175h7v1h-7zM204 175h6v1h-6zM660 175h2v1h-2zM197 176h7v1h-7zM662 176h2v1h-2zM664 177h2v1h-2zM666 178h1v1h-1zM667 179h2v1h-2zM669 180h2v1h-2zM671 181h1v1h-1zM672 182h2v1h-2zM674 183h2v1h-2zM676 184h1v1h-1zM677 185h2v1h-2zM679 186h2v1h-2zM681 187h1v1h-1zM682 188h2v1h-2zM684 189h1v1h-1zM685 190h2v1h-2zM687 191h2v1h-2zM689 192h1v1h-1zM690 193h2v1h-2zM692 194h1v1h-1zM693 195h2v1h-2zM695 196h2v1h-2zM697 197h1v1h-1zM698 198h2v1h-2zM700 199h1v1h-1zM701 200h2v1h-2zM703 201h2v1h-2zM705 202h2v1h-2zM707 203h2v1h-2zM709 204h2v1h-2zM711 205h2v1h-2zM713 206h2v1h-2zM715 207h1v1h-1zM716 208h2v1h-2zM718 209h2v1h-2zM720 210h2v1h-2zM722 211h2v1h-2zM724 212h2v1h-2zM726 213h2v1h-2zM728 214h2v1h-2zM730 215h3v1h-3zM733 216h5v1h-5zM738 217h4v1h-4zM742 218h1v1h-1zM743 219h3v1h-3zM746 220h1v1h-1zM747 221h3v1h-3zM750 222h1v1h-1zM751 223h3v1h-3zM754 224h1v1h-1zM755 225h5v1h-5zM760 226h5v1h-5zM765 227h5v1h-5zM770 228h4v1h-4zM774 229h4v1h-4zM778 230h4v1h-4zM782 231h4v1h-4zM786 232h8v1h-8zM794 233h33v1h-33zM856 233h16v1h-16zM827 234h4v1h-4zM844 234h12v1h-12zM872 234h2v1h-2zM831 235h13v1h-13zM874 235h36v1h-36zM910 236h3v1h-3zM913 237h3v1h-3zM916 238h3v1h-3zM919 239h4v1h-4zM923 240h4v1h-4zM927 241h4v1h-4zM931 242h4v1h-4zM935 243h4v1h-4zM939 244h4v1h-4zM943 245h2v1h-2zM945 246h3v1h-3zM948 247h2v1h-2zM950 248h3v1h-3zM953 249h2v1h-2zM955 250h3v1h-3zM958 251h2v1h-2zM960 252h3v1h-3zM963 253h2v1h-2zM965 254h2v1h-2zM967 255h2v1h-2zM969 256h3v1h-3zM972 257h2v1h-2zM974 258h2v1h-2zM976 259h2v1h-2zM978 260h2v1h-2zM980 261h3v1h-3zM983 262h3v1h-3zM986 263h3v1h-3zM989 264h2v1h-2zM991 265h3v1h-3zM994 266h3v1h-3zM997 267h3v1h-3zM1000 268h4v1h-4zM1004 269h5v1h-5zM1009 270h5v1h-5zM1014 271h6v1h-6zM1020 272h5v1h-5zM1025 273h5v1h-5zM1030 274h5v1h-5zM1035 275h4v1h-4zM1039 276h5v1h-5zM1044 277h5v1h-5zM1049 278h5v1h-5zM1054 279h4v1h-4zM1058 280h4v1h-4zM1062 281h3v1h-3zM1065 282h2v1h-2zM1067 283h3v1h-3zM1070 284h3v1h-3zM1073 285h2v1h-2zM1075 286h3v1h-3zM1078 287h3v1h-3zM1081 288h3v1h-3zM1084 289h2v1h-2zM1086 290h3v1h-3zM1089 291h3v1h-3zM1092 292h2v1h-2zM1094 293h3v1h-3zM1097 294h3v1h-3zM1100 295h3v1h-3zM1103 296h2v1h-2zM1105 297h7v1h-7zM1112 298h11v1h-11zM1123 299h9v1h-9zM1132 300h7v1h-7zM1139 301h8v1h-8zM1147 302h5v1h-5zM1152 303h3v1h-3zM1155 304h3v1h-3zM1158 305h2v1h-2zM1160 306h3v1h-3zM1163 307h3v1h-3zM1166 308h3v1h-3zM1169 309h3v1h-3zM1172 310h2v1h-2zM1174 311h2v1h-2zM1176 312h2v1h-2zM1178 313h3v1h-3zM1181 314h2v1h-2zM1183 315h2v1h-2zM1185 316h2v1h-2zM1187 317h2v1h-2zM1189 318h3v1h-3zM1192 319h2v1h-2zM1194 320h2v1h-2zM1196 321h2v1h-2zM1198 322h3v1h-3zM1201 323h2v1h-2zM1203 324h2v1h-2zM1205 325h2v1h-2zM1207 326h2v1h-2zM1209 327h3v1h-3zM1212 328h2v1h-2zM1214 329h3v1h-3zM1217 330h2v1h-2zM1219 331h3v1h-3zM1222 332h2v1h-2zM1224 333h3v1h-3zM1227 334h2v1h-2zM1229 335h3v1h-3zM1232 336h1v1h-1zM1233 337h3v1h-3zM1236 338h1v1h-1zM1237 339h3v1h-3zM1240 340h1v1h-1zM1241 341h3v1h-3zM1244 342h1v1h-1zM1245 343h3v1h-3zM1248 344h1v1h-1zM1249 345h3v1h-3zM1252 346h4v1h-4zM1256 347h3v1h-3zM1259 348h4v1h-4zM1263 349h3v1h-3zM1266 350h4v1h-4zM1270 351h3v1h-3zM1273 352h3v1h-3zM1276 353h4v1h-4zM1280 354h3v1h-3zM1283 355h4v1h-4zM1287 356h3v1h-3zM1290 357h3v1h-3zM1293 358h3v1h-3zM1296 359h3v1h-3zM1299 360h2v1h-2zM1301 361h3v1h-3zM1304 362h3v1h-3zM1307 363h3v1h-3zM1310 364h3v1h-3zM1313 365h3v1h-3zM1316 366h2v1h-2zM1318 367h3v1h-3zM1321 368h3v1h-3zM1324 369h2v1h-2zM1326 370h3v1h-3zM1329 371h2v1h-2z" fill="#ff00ff"/>
<path d="M303 117h6v1h-6zM296 118h7v1h-7zM309 118h4v1h-4zM287 119h9v1h-9zM313 119h3v1h-3zM280 120h7v1h-7zM316 120h4v1h-4zM278 121h2v1h-2zM320 121h3v1h-3zM276 122h2v1h-2zM323 122h2v1h-2zM273 123h3v1h-3zM325 123h2v1h-2zM271 124h2v1h-2zM327 124h2v1h-2zM269 125h2v1h-2zM329 125h2v1h-2zM266 126h3v1h-3zM331 126h2v1h-2zM264 127h2v1h-2zM333 127h2v1h-2zM262 128h2v1h-2zM335 128h2v1h-2zM259 129h3v1h-3zM337 129h2v1h-2zM257 130h2v1h-2zM339 130h3v1h-3zM255 131h2v1h-2zM342 131h2v1h-2zM253 132h2v1h-2zM344 132h2v1h-2zM251 133h2v1h-2zM346 133h2v1h-2zM248 134h3v1h-3zM348 134h3v1h-3zM246 135h2v1h-2zM351 135h2v1h-2zM244 136h2v1h-2zM353 136h2v1h-2zM242 137h2v1h-2zM355 137h2v1h-2zM239 138h3v1h-3zM357 138h2v1h-2zM236 139h3v1h-3zM359 139h2v1h-2zM234 140h2v1h-2zM361 140h2v1h-2zM231 141h3v1h-3zM363 141h2v1h-2zM228 142h3v1h-3zM365 142h1v1h-1zM226 143h2v1h-2zM366 143h2v1h-2zM224 144h2v1h-2zM368 144h2v1h-2zM222 145h2v1h-2zM370 145h1v1h-1zM220 146h2v1h-2zM371 146h2v1h-2zM219 147h1v1h-1zM373 147h2v1h-2zM217 148h2v1h-2zM375 148h1v1h-1zM215 149h2v1h-2zM376 149h2v1h-2zM213 150h2v1h-2zM378 150h2v1h-2zM212 151h1v1h-1zM380 151h2v1h-2zM210 152h2v1h-2zM382 152h3v1h-3zM209 153h1v1h-1zM385 153h3v1h-3zM208 154h1v1h-1zM388 154h2v1h-2zM207 155h1v1h-1zM390 155h3v1h-3zM205 156h2v1h-2zM393 156h3v1h-3zM204 157h1v1h-1zM396 157h3v1h-3zM202 158h2v1h-2zM399 158h3v1h-3zM201 159h1v1h-1zM402 159h1v1h-1zM200 160h1v1h-1zM403 160h3v1h-3zM567 160h14v1h-14zM199 161h1v1h-1zM406 161h1v1h-1zM560 161h7v1h-7zM581 161h11v1h-11zM198 162h1v1h-1zM407 162h3v1h-3zM554 162h6v1h-6zM592 162h4v1h-4zM197 163h1v1h-1zM410 163h1v1h-1zM549 163h5v1h-5zM596 163h3v1h-3zM196 164h1v1h-1zM411 164h3v1h-3zM546 164h3v1h-3zM599 164h4v1h-4zM195 165h1v1h-1zM414 165h1v1h-1zM542 165h4v1h-4zM603 165h3v1h-3zM194 166h1v1h-1zM415 166h3v1h-3zM539 166h3v1h-3zM606 166h4v1h-4zM193 167h1v1h-1zM418 167h1v1h-1zM535 167h4v1h-4zM610 167h4v1h-4zM3 168h1v1h-1zM193 168h1v1h-1zM419 168h3v1h-3zM532 168h3v1h-3zM614 168h5v1h-5zM4 169h2v1h-2zM192 169h1v1h-1zM422 169h3v1h-3zM529 169h3v1h-3zM619 169h6v1h-6zM6 170h1v1h-1zM191 170h1v1h-1zM425 170h4v1h-4zM526 170h3v1h-3zM625 170h4v1h-4zM7 171h1v1h-1zM190 171h1v1h-1zM429 171h9v1h-9zM523 171h3v1h-3zM629 171h2v1h-2zM8 172h2v1h-2zM189 172h1v1h-1zM438 172h8v1h-8zM520 172h3v1h-3zM631 172h3v1h-3zM10 173h1v1h-1zM188 173h1v1h-1zM446 173h1v1h-1zM518 173h2v1h-2zM634 173h2v1h-2zM11 174h1v1h-1zM187 174h1v1h-1zM447 174h3v1h-3zM515 174h3v1h-3zM636 174h2v1h-2zM12 175h1v1h-1zM186 175h1v1h-1zM450 175h1v1h-1zM512 175h3v1h-3zM638 175h1v1h-1zM12 176h1v1h-1zM185 176h1v1h-1zM451 176h3v1h-3zM508 176h4v1h-4zM639 176h2v1h-2zM13 177h1v1h-1zM185 177h1v1h-1zM454 177h4v1h-4zM501 177h7v1h-7zM641 177h1v1h-1zM14 178h1v1h-1zM184 178h1v1h-1zM458 178h3v1h-3zM474 178h11v1h-11zM496 178h5v1h-5zM642 178h1v1h-1zM14 179h1v1h-1zM184 179h1v1h-1zM461 179h4v1h-4zM469 179h5v1h-5zM485 179h11v1h-11zM643 179h1v1h-1zM15 180h1v1h-1zM183 180h1v1h-1zM465 180h4v1h-4zM644 180h2v1h-2zM16 181h1v1h-1zM182 181h1v1h-1zM646 181h1v1h-1zM17 182h1v1h-1zM182 182h1v1h-1zM647 182h1v1h-1zM18 183h1v1h-1zM181 183h1v1h-1zM648 183h1v1h-1zM18 184h1v1h-1zM181 184h1v1h-1zM649 184h1v1h-1zM19 185h2v1h-2zM180 185h1v1h-1zM650 185h2v1h-2zM21 186h4v1h-4zM179 186h1v1h-1zM652 186h1v1h-1zM25 187h3v1h-3zM179 187h1v1h-1zM653 187h1v1h-1zM28 188h2v1h-2zM178 188h1v1h-1zM654 188h2v1h-2zM30 189h3v1h-3zM177 189h1v1h-1zM656 189h1v1h-1zM33 190h2v1h-2zM177 190h1v1h-1zM657 190h1v1h-1zM35 191h1v1h-1zM176 191h1v1h-1zM658 191h2v1h-2zM36 192h2v1h-2zM175 192h1v1h-1zM660 192h1v1h-1zM38 193h1v1h-1zM175 193h1v1h-1zM661 193h1v1h-1zM39 194h2v1h-2zM174 194h1v1h-1zM662 194h1v1h-1zM41 195h1v1h-1zM173 195h1v1h-1zM663 195h1v1h-1zM42 196h2v1h-2zM172 196h1v1h-1zM664 196h1v1h-1zM44 197h1v1h-1zM171 197h1v1h-1zM665 197h1v1h-1zM45 198h3v1h-3zM170 198h1v1h-1zM666 198h1v1h-1zM48 199h1v1h-1zM169 199h1v1h-1zM667 199h1v1h-1zM49 200h3v1h-3zM168 200h1v1h-1zM668 200h1v1h-1zM52 201h1v1h-1zM167 201h1v1h-1zM669 201h1v1h-1zM53 202h3v1h-3zM166 202h1v1h-1zM669 202h1v1h-1zM56 203h2v1h-2zM165 203h1v1h-1zM670 203h1v1h-1zM58 204h1v1h-1zM163 204h2v1h-2zM670 204h1v1h-1zM59 205h3v1h-3zM162 205h1v1h-1zM671 205h1v1h-1zM62 206h1v1h-1zM159 206h3v1h-3zM671 206h1v1h-1zM63 207h3v1h-3zM158 207h1v1h-1zM672 207h1v1h-1zM66 208h2v1h-2zM155 208h3v1h-3zM672 208h1v1h-1zM68 209h2v1h-2zM154 209h1v1h-1zM673 209h1v1h-1zM70 210h2v1h-2zM151 210h3v1h-3zM673 210h1v1h-1zM72 211h2v1h-2zM148 211h3v1h-3zM674 211h1v1h-1zM74 212h3v1h-3zM146 212h2v1h-2zM674 212h1v1h-1zM77 213h2v1h-2zM143 213h3v1h-3zM675 213h1v1h-1zM79 214h2v1h-2zM140 214h3v1h-3zM675 214h1v1h-1zM81 215h6v1h-6zM136 215h4v1h-4zM676 215h1v1h-1zM87 216h9v1h-9zM129 216h7v1h-7zM676 216h1v1h-1zM96 217h15v1h-15zM124 217h5v1h-5zM677 217h1v1h-1zM111 218h13v1h-13zM677 218h1v1h-1zM927 218h5v1h-5zM678 219h1v1h-1zM922 219h5v1h-5zM932 219h3v1h-3zM678 220h1v1h-1zM917 220h5v1h-5zM935 220h5v1h-5zM679 221h1v1h-1zM914 221h3v1h-3zM940 221h3v1h-3zM679 222h1v1h-1zM913 222h1v1h-1zM943 222h3v1h-3zM680 223h1v1h-1zM911 223h2v1h-2zM946 223h3v1h-3zM681 224h1v1h-1zM910 224h1v1h-1zM949 224h2v1h-2zM681 225h1v1h-1zM909 225h1v1h-1zM951 225h3v1h-3zM682 226h1v1h-1zM907 226h2v1h-2zM954 226h3v1h-3zM682 227h1v1h-1zM906 227h1v1h-1zM957 227h3v1h-3zM683 228h1v1h-1zM905 228h1v1h-1zM960 228h2v1h-2zM683 229h1v1h-1zM904 229h1v1h-1zM962 229h2v1h-2zM684 230h1v1h-1zM902 230h2v1h-2zM964 230h2v1h-2zM684 231h1v1h-1zM901 231h1v1h-1zM966 231h2v1h-2zM685 232h1v1h-1zM900 232h1v1h-1zM968 232h2v1h-2zM685 233h1v1h-1zM899 233h1v1h-1zM970 233h1v1h-1zM686 234h1v1h-1zM897 234h2v1h-2zM971 234h2v1h-2zM686 235h1v1h-1zM896 235h1v1h-1zM973 235h2v1h-2zM687 236h1v1h-1zM895 236h1v1h-1zM975 236h2v1h-2zM687 237h1v1h-1zM894 237h1v1h-1zM977 237h2v1h-2zM688 238h1v1h-1zM892 238h2v1h-2zM979 238h2v1h-2zM688 239h1v1h-1zM891 239h1v1h-1zM981 239h2v1h-2zM689 240h1v1h-1zM890 240h1v1h-1zM983 240h2v1h-2zM690 241h1v1h-1zM889 241h1v1h-1zM985 241h2v1h-2zM690 242h1v1h-1zM887 242h2v1h-2zM987 242h3v1h-3zM691 243h1v1h-1zM886 243h1v1h-1zM990 243h2v1h-2zM691 244h1v1h-1zM885 244h1v1h-1zM992 244h3v1h-3zM692 245h1v1h-1zM884 245h1v1h-1zM995 245h2v1h-2zM692 246h1v1h-1zM882 246h2v1h-2zM997 246h2v1h-2zM693 247h1v1h-1zM881 247h1v1h-1zM999 247h2v1h-2zM693 248h1v1h-1zM880 248h1v1h-1zM1001 248h2v1h-2zM694 249h1v1h-1zM879 249h1v1h-1zM1003 249h1v1h-1zM694 250h1v1h-1zM878 250h1v1h-1zM1004 250h2v1h-2zM695 251h1v1h-1zM877 251h1v1h-1zM1006 251h1v1h-1zM695 252h1v1h-1zM876 252h1v1h-1zM1007 252h2v1h-2zM696 253h1v1h-1zM875 253h1v1h-1zM1009 253h2v1h-2zM696 254h1v1h-1zM874 254h1v1h-1zM1011 254h1v1h-1zM697 255h1v1h-1zM873 255h1v1h-1zM1012 255h2v1h-2zM697 256h1v1h-1zM872 256h1v1h-1zM1014 256h1v1h-1zM698 257h1v1h-1zM871 257h1v1h-1zM1015 257h2v1h-2zM699 258h1v1h-1zM870 258h1v1h-1zM1017 258h1v1h-1zM700 259h1v1h-1zM870 259h1v1h-1zM1018 259h2v1h-2zM700 260h1v1h-1zM869 260h1v1h-1zM1020 260h2v1h-2zM701 261h1v1h-1zM868 261h1v1h-1zM1022 261h1v1h-1zM702 262h1v1h-1zM867 262h1v1h-1zM1023 262h3v1h-3zM702 263h1v1h-1zM866 263h1v1h-1zM1026 263h1v1h-1zM703 264h1v1h-1zM865 264h1v1h-1zM1027 264h3v1h-3zM704 265h1v1h-1zM864 265h1v1h-1zM1030 265h1v1h-1zM705 266h1v1h-1zM863 266h1v1h-1zM1031 266h3v1h-3zM706 267h1v1h-1zM862 267h1v1h-1zM1034 267h1v1h-1zM706 268h1v1h-1zM861 268h1v1h-1zM1035 268h3v1h-3zM707 269h1v1h-1zM860 269h1v1h-1zM1038 269h1v1h-1zM708 270h1v1h-1zM859 270h1v1h-1zM1039 270h2v1h-2zM708 271h1v1h-1zM858 271h1v1h-1zM1041 271h2v1h-2zM709 272h1v1h-1zM858 272h1v1h-1zM1043 272h1v1h-1zM710 273h1v1h-1zM857 273h1v1h-1zM1044 273h2v1h-2zM711 274h1v1h-1zM856 274h1v1h-1zM1046 274h1v1h-1zM712 275h1v1h-1zM855 275h1v1h-1zM1047 275h2v1h-2zM712 276h1v1h-1zM854 276h1v1h-1zM1049 276h2v1h-2zM713 277h1v1h-1zM853 277h1v1h-1zM1051 277h1v1h-1zM714 278h1v1h-1zM853 278h1v1h-1zM1052 278h2v1h-2zM714 279h1v1h-1zM852 279h1v1h-1zM1054 279h1v1h-1zM715 280h1v1h-1zM851 280h1v1h-1zM1055 280h2v1h-2zM716 281h1v1h-1zM850 281h1v1h-1zM1057 281h1v1h-1zM717 282h1v1h-1zM849 282h1v1h-1zM1058 282h2v1h-2zM718 283h1v1h-1zM848 283h1v1h-1zM1060 283h1v1h-1zM719 284h1v1h-1zM848 284h1v1h-1zM1061 284h1v1h-1zM719 285h1v1h-1zM847 285h1v1h-1zM1061 285h1v1h-1zM720 286h1v1h-1zM846 286h1v1h-1zM1062 286h1v1h-1zM721 287h1v1h-1zM845 287h1v1h-1zM1063 287h1v1h-1zM722 288h1v1h-1zM845 288h1v1h-1zM1064 288h1v1h-1zM723 289h1v1h-1zM844 289h1v1h-1zM1064 289h1v1h-1zM724 290h1v1h-1zM844 290h1v1h-1zM1065 290h1v1h-1zM724 291h1v1h-1zM843 291h1v1h-1zM1066 291h1v1h-1zM725 292h1v1h-1zM842 292h1v1h-1zM1067 292h1v1h-1zM726 293h1v1h-1zM842 293h1v1h-1zM1067 293h1v1h-1zM727 294h1v1h-1zM841 294h1v1h-1zM1068 294h1v1h-1zM728 295h1v1h-1zM841 295h1v1h-1zM1069 295h1v1h-1zM729 296h1v1h-1zM840 296h1v1h-1zM1070 296h1v1h-1zM729 297h1v1h-1zM839 297h1v1h-1zM1070 297h1v1h-1zM730 298h1v1h-1zM839 298h1v1h-1zM1071 298h1v1h-1zM731 299h1v1h-1zM838 299h1v1h-1zM1072 299h1v1h-1zM732 300h1v1h-1zM837 300h1v1h-1zM1073 300h1v1h-1zM733 301h2v1h-2zM837 301h1v1h-1zM1073 301h1v1h-1zM735 302h2v1h-2zM836 302h1v1h-1zM1074 302h1v1h-1zM737 303h1v1h-1zM836 303h1v1h-1zM1075 303h1v1h-1zM738 304h2v1h-2zM834 304h2v1h-2zM1076 304h1v1h-1zM740 305h2v1h-2zM832 305h2v1h-2zM1077 305h1v1h-1zM742 306h2v1h-2zM830 306h2v1h-2zM1078 306h1v1h-1zM744 307h1v1h-1zM828 307h2v1h-2zM1079 307h1v1h-1zM745 308h2v1h-2zM826 308h2v1h-2zM1080 308h1v1h-1zM747 309h2v1h-2zM824 309h2v1h-2zM1081 309h1v1h-1zM749 310h2v1h-2zM822 310h2v1h-2zM1081 310h1v1h-1zM751 311h2v1h-2zM819 311h3v1h-3zM1082 311h1v1h-1zM753 312h2v1h-2zM816 312h3v1h-3zM1083 312h1v1h-1zM755 313h2v1h-2zM812 313h4v1h-4zM1084 313h1v1h-1zM757 314h2v1h-2zM809 314h3v1h-3zM1085 314h1v1h-1zM759 315h2v1h-2zM805 315h4v1h-4zM1086 315h1v1h-1zM761 316h2v1h-2zM802 316h3v1h-3zM1087 316h1v1h-1zM763 317h5v1h-5zM798 317h4v1h-4zM1088 317h1v1h-1zM768 318h7v1h-7zM793 318h5v1h-5zM1089 318h1v1h-1zM775 319h8v1h-8zM789 319h4v1h-4zM1090 319h1v1h-1zM783 320h6v1h-6zM1091 320h1v1h-1zM1092 321h1v1h-1zM1093 322h1v1h-1zM1094 323h1v1h-1zM1095 324h1v1h-1zM1096 325h1v1h-1zM1097 326h1v1h-1zM1098 327h1v1h-1zM1099 328h1v1h-1zM1100 329h1v1h-1zM1101 330h1v1h-1zM1102 331h1v1h-1zM1103 332h1v1h-1zM1103 333h1v1h-1zM1104 334h1v1h-1zM1105 335h1v1h-1zM1106 336h1v1h-1zM1107 337h1v1h-1zM1108 338h1v1h-1zM1109 339h1v1h-1zM1110 340h1v1h-1zM1110 341h1v1h-1zM1111 342h1v1h-1zM1112 343h1v1h-1zM1113 344h1v1h-1zM1114 345h1v1h-1zM1115 346h1v1h-1zM1116 347h1v1h-1zM1116 348h1v1h-1zM1117 349h1v1h-1zM1118 350h1v1h-1zM1119 351h1v1h-1zM1120 352h1v1h-1zM1121 353h1v1h-1zM1122 354h1v1h-1zM1123 355h1v1h-1zM1123 356h1v1h-1zM1124 357h1v1h-1zM1125 358h1v1h-1zM1126 359h1v1h-1zM1127 360h1v1h-1zM1128 361h1v1h-1zM1129 362h1v1h-1zM1130 363h1v1h-1zM1131 364h1v1h-1zM1132 365h1v1h-1zM1133 366h1v1h-1zM1134 367h1v1h-1zM1135 368h1v1h-1zM1136 369h2v1h-2zM1138 370h1v1h-1zM1139 371h1v1h-1zM1140 372h1v1h-1zM1141 373h1v1h-1zM1142 374h1v1h-1zM1143 375h1v1h-1zM1144 376h1v1h-1zM1145 377h1v1h-1zM1146 378h1v1h-1zM1147 379h1v1h-1zM1148 380h1v1h-1zM1149 381h1v1h-1zM1149 382h1v1h-1zM1150 383h1v1h-1zM1151 384h1v1h-1zM1152 385h1v1h-1zM1152 386h1v1h-1zM1153 387h1v1h-1zM1154 388h1v1h-1zM1154 389h1v1h-1zM1155 390h1v1h-1zM1156 391h1v1h-1zM1157 392h1v1h-1zM1158 393h1v1h-1zM1158 394h1v1h-1zM1159 395h1v1h-1zM1160 396h1v1h-1zM1161 397h1v1h-1zM1162 398h1v1h-1zM1163 399h1v1h-1zM1164 400h1v1h-1zM1164 401h1v1h-1zM1165 402h1v1h-1zM1166 403h1v1h-1zM1167 404h1v1h-1zM1168 405h1v1h-1zM1169 406h1v1h-1zM1170 407h1v1h-1zM1171 408h1v1h-1zM1330 408h1v1h-1zM1171 409h1v1h-1zM1329 409h1v1h-1zM1172 410h1v1h-1zM1328 410h1v1h-1zM1173 411h1v1h-1zM1327 411h1v1h-1zM1174 412h1v1h-1zM1325 412h2v1h-2zM1175 413h1v1h-1zM1324 413h1v1h-1zM1176 414h1v1h-1zM1323 414h1v1h-1zM1177 415h1v1h-1zM1322 415h1v1h-1zM1177 416h1v1h-1zM1321 416h1v1h-1zM1178 417h1v1h-1zM1319 417h2v1h-2zM1179 418h1v1h-1zM1317 418h2v1h-2zM1180 419h1v1h-1zM1315 419h2v1h-2zM1181 420h1v1h-1zM1313 420h2v1h-2zM1182 421h1v1h-1zM1311 421h2v1h-2zM1182 422h1v1h-1zM1310 422h1v1h-1zM1183 423h1v1h-1zM1308 423h2v1h-2zM1184 424h1v1h-1zM1306 424h2v1h-2zM1185 425h1v1h-1zM1304 425h2v1h-2zM1186 426h1v1h-1zM1302 426h2v1h-2zM1186 427h1v1h-1zM1301 427h1v1h-1zM1187 428h1v1h-1zM1299 428h2v1h-2zM1188 429h1v1h-1zM1297 429h2v1h-2zM1189 430h1v1h-1zM1296 430h1v1h-1zM1190 431h1v1h-1zM1294 431h2v1h-2zM1190 432h1v1h-1zM1292 432h2v1h-2zM1191 433h1v1h-1zM1291 433h1v1h-1zM1192 434h1v1h-1zM1290 434h1v1h-1zM1193 435h1v1h-1zM1289 435h1v1h-1zM1194 436h1v1h-1zM1288 436h1v1h-1zM1194 437h1v1h-1zM1287 437h1v1h-1zM1195 438h1v1h-1zM1286 438h1v1h-1zM1196 439h1v1h-1zM1285 439h1v1h-1zM1197 440h1v1h-1zM1283 440h2v1h-2zM1198 441h1v1h-1zM1282 441h1v1h-1zM1198 442h1v1h-1zM1281 442h1v1h-1zM1199 443h1v1h-1zM1280 443h1v1h-1zM1200 444h1v1h-1zM1279 444h1v1h-1zM1201 445h1v1h-1zM1278 445h1v1h-1zM1202 446h1v1h-1zM1277 446h1v1h-1zM1203 447h1v1h-1zM1276 447h1v1h-1zM1204 448h2v1h-2zM1275 448h1v1h-1zM1206 449h1v1h-1zM1274 449h1v1h-1zM1207 450h1v1h-1zM1272 450h2v1h-2zM1208 451h1v1h-1zM1271 451h1v1h-1zM1209 452h1v1h-1zM1270 452h1v1h-1zM1210 453h1v1h-1zM1268 453h2v1h-2zM1211 454h1v1h-1zM1267 454h1v1h-1zM1212 455h1v1h-1zM1265 455h2v1h-2zM1213 456h2v1h-2zM1263 456h2v1h-2zM1215 457h1v1h-1zM1261 457h2v1h-2zM1216 458h1v1h-1zM1258 458h3v1h-3zM1217 459h1v1h-1zM1256 459h2v1h-2zM1218 460h1v1h-1zM1253 460h3v1h-3zM1219 461h1v1h-1zM1251 461h2v1h-2zM1220 462h1v1h-1zM1249 462h2v1h-2zM1221 463h1v1h-1zM1246 463h3v1h-3zM1222 464h2v1h-2zM1244 464h2v1h-2zM1224 465h1v1h-1zM1242 465h2v1h-2zM1225 466h1v1h-1zM1237 466h5v1h-5zM1226 467h1v1h-1zM1231 467h6v1h-6zM1227 468h4v1h-4z" fill="#ffa500"/>
</g>
<rect x="3" y="79" width="1680" height="2" fill="#ff0000"/>
<rect x="3" y="188" width="1680" height="2" fill="#ff0000"/>
<rect x="3" y="318" width="1680" height="2" fill="#28c328"/>
<rect x="3" y="448" width="1680" height="2" fill="#3b63dd"/>
<rect x="3" y="535" width="1680" height="2" fill="#3b63dd"/>
<rect x="2" y="30" width="1682" height="1" fill="#000"/>
<rect x="2" y="30" width="1" height="540" fill="#000"/>
<rect x="1683" y="30" width="1" height="540" fill="#000"/>
<rect x="2" y="569" width="1682" height="1" fill="#000"/>
<rect x="2" y="571" width="1682" height="1" fill="#000"/>
<rect x="2" y="571" width="1" height="173" fill="#000"/>
<rect x="1683" y="571" width="1" height="173" fill="#000"/>
<rect x="2" y="743" width="1682" height="1" fill="#000"/>
<rect x="2" y="745" width="1682" height="1" fill="#000"/>
<rect x="2" y="745" width="1" height="129" fill="#000"/>
<rect x="1683" y="745" width="1" height="129" fill="#000"/>
<rect x="2" y="873" width="1682" height="1" fill="#000"/>
<rect x="1684" y="38" width="2" height="1" fill="#000"/>
<rect x="1684" y="71" width="2" height="1" fill="#000"/>
<rect x="1684" y="104" width="2" height="1" fill="#000"/>
<rect x="1684" y="137" width="2" height="1" fill="#000"/>
<rect x="1684" y="170" width="2" height="1" fill="#000"/>
<rect x="1684" y="203" width="2" height="1" fill="#000"/>
<rect x="1684" y="236" width="2" height="1" fill="#000"/>
<rect x="1684" y="269" width="2" height="1" fill="#000"/>
<rect x="1684" y="302" width="2" height="1" fill="#000"/>
<rect x="1684" y="335" width="2" height="1" fill="#000"/>
<rect x="1684" y="368" width="2" height="1" fill="#000"/>
<rect x="1684" y="401" width="2" height="1" fill="#000"/>
<rect x="1684" y="434" width="2" height="1" fill="#000"/>
<rect x="1684" y="467" width="2" height="1" fill="#000"/>
<rect x="1684" y="500" width="2" height="1" fill="#000"/>
<rect x="1684" y="566" width="2" height="1" fill="#000"/>
<rect x="1684" y="630" width="2" height="1" fill="#000"/>
<rect x="1685" y="74" width="38" height="11" fill="#ff0000"/>
<rect x="1685" y="183" width="38" height="11" fill="#ff0000"/>
<rect x="1685" y="313" width="38" height="11" fill="#2fc72f"/>
<rect x="1685" y="353" width="38" height="11" fill="#000000"/>
<rect x="1685" y="443" width="38" height="11" fill="#3b63dd"/>
<rect x="1685" y="530" width="38" height="11" fill="#3b63dd"/>
<rect x="3" y="630" width="1" height="58" fill="#c0c0c0"/>
<rect x="11" y="630" width="1" height="64" fill="#c0c0c0"/>
<rect x="19" y="630" width="1" height="80" fill="#c0c0c0"/>
<rect x="27" y="630" width="1" height="80" fill="#c0c0c0"/>
<rect x="35" y="630" width="1" height="76" fill="#c0c0c0"/>
<rect x="43" y="630" width="1" height="72" fill="#c0c0c0"/>
<rect x="51" y="630" width="1" height="65" fill="#c0c0c0"/>
<rect x="59" y="630" width="1" height="60" fill="#c0c0c0"/>
<rect x="67" y="630" width="1" height="55" fill="#c0c0c0"/>
<rect x="75" y="630" width="1" height="50" fill="#c0c0c0"/>
<rect x="83" y="630" width="1" height="45" fill="#c0c0c0"/>
<rect x="91" y="630" width="1" height="38" fill="#c0c0c0"/>
<rect x="99" y="630" width="1" height="34" fill="#c0c0c0"/>
<rect x="107" y="630" width="1" height="31" fill="#c0c0c0"/>
<rect x="115" y="630" width="1" height="27" fill="#c0c0c0"/>
<rect x="123" y="630" width="1" height="19" fill="#c0c0c0"/>
<rect x="131" y="630" width="1" height="8" fill="#c0c0c0"/>
<rect x="139" y="630" width="1" height="4" fill="#c0c0c0"/>
<rect x="147" y="622" width="1" height="9" fill="#c0c0c0"/>
<rect x="155" y="610" width="1" height="21" fill="#c0c0c0"/>
<rect x="163" y="600" width="1" height="31" fill="#c0c0c0"/>
<rect x="171" y="591" width="1" height="40" fill="#c0c0c0"/>
<rect x="179" y="587" width="1" height="44" fill="#c0c0c0"/>
<rect x="187" y="583" width="1" height="48" fill="#c0c0c0"/>
<rect x="195" y="584" width="1" height="47" fill="#c0c0c0"/>
<rect x="203" y="582" width="1" height="49" fill="#c0c0c0"/>
<rect x="211" y="581" width="1" height="50" fill="#c0c0c0"/>
<rect x="219" y="586" width="1" height="45" fill="#c0c0c0"/>
<rect x="227" y="590" width="1" height="41" fill="#c0c0c0"/>
<rect x="235" y="601" width="1" height="30" fill="#c0c0c0"/>
<rect x="243" y="606" width="1" height="25" fill="#c0c0c0"/>
<rect x="251" y="610" width="1" height="21" fill="#c0c0c0"/>
<rect x="259" y="613" width="1" height="18" fill="#c0c0c0"/>
<rect x="267" y="618" width="1" height="13" fill="#c0c0c0"/>
<rect x="275" y="621" width="1" height="10" fill="#c0c0c0"/>
<rect x="283" y="619" width="1" height="12" fill="#c0c0c0"/>
<rect x="291" y="623" width="1" height="8" fill="#c0c0c0"/>
<rect x="299" y="625" width="1" height="6" fill="#c0c0c0"/>
<rect x="307" y="626" width="1" height="5" fill="#c0c0c0"/>
<rect x="315" y="625" width="1" height="6" fill="#c0c0c0"/>
<rect x="323" y="629" width="1" height="2" fill="#c0c0c0"/>
<rect x="331" y="630" width="1" height="1" fill="#c0c0c0"/>
<rect x="339" y="630" width="1" height="1" fill="#c0c0c0"/>
<rect x="347" y="630" width="1" height="4" fill="#c0c0c0"/>
<rect x="355" y="630" width="1" height="6" fill="#c0c0c0"/>
<rect x="363" y="630" width="1" height="10" fill="#c0c0c0"/>
<rect x="371" y="630" width="1" height="11" fill="#c0c0c0"/>
<rect x="379" y="630" width="1" height="17" fill="#c0c0c0"/>
<rect x="387" y="630" width="1" height="17" fill="#c0c0c0"/>
<rect x="395" y="630" width="1" height="21" fill="#c0c0c0"/>
<rect x="403" y="630" width="1" height="25" fill="#c0c0c0"/>
<rect x="411" y="630" width="1" height="29" fill="#c0c0c0"/>
<rect x="419" y="630" width="1" height="33" fill="#c0c0c0"/>
<rect x="427" y="630" width="1" height="33" fill="#c0c0c0"/>
<rect x="435" y="630" width="1" height="22" fill="#c0c0c0"/>
<rect x="443" y="630" width="1" height="22" fill="#c0c0c0"/>
<rect x="451" y="630" width="1" height="21" fill="#c0c0c0"/>
<rect x="459" y="630" width="1" height="22" fill="#c0c0c0"/>
<rect x="467" y="630" width="1" height="20" fill="#c0c0c0"/>
<rect x="475" y="630" width="1" height="8" fill="#c0c0c0"/>
<rect x="483" y="630" width="1" height="1" fill="#c0c0c0"/>
<rect x="491" y="630" width="1" height="1" fill="#c0c0c0"/>
<rect x="499" y="628" width="1" height="3" fill="#c0c0c0"/>
<rect x="507" y="622" width="1" height="9" fill="#c0c0c0"/>
<rect x="515" y="617" width="1" height="14" fill="#c0c0c0"/>
<rect x="523" y="611" width="1" height="20" fill="#c0c0c0"/>
<rect x="531" y="610" width="1" height="21" fill="#c0c0c0"/>
<rect x="539" y="609" width="1" height="22" fill="#c0c0c0"/>
<rect x="547" y="610" width="1" height="21" fill="#c0c0c0"/>
<rect x="555" y="612" width="1" height="19" fill="#c0c0c0"/>
<rect x="563" y="618" width="1" height="13" fill="#c0c0c0"/>
<rect x="571" y="627" width="1" height="4" fill="#c0c0c0"/>
<rect x="579" y="630" width="1" height="8" fill="#c0c0c0"/>
<rect x="587" y="630" width="1" height="16" fill="#c0c0c0"/>
<rect x="595" y="630" width="1" height="21" fill="#c0c0c0"/>
<rect x="603" y="630" width="1" height="23" fill="#c0c0c0"/>
<rect x="611" y="630" width="1" height="26" fill="#c0c0c0"/>
<rect x="619" y="630" width="1" height="30" fill="#c0c0c0"/>
<rect x="627" y="630" width="1" height="33" fill="#c0c0c0"/>
<rect x="635" y="630" width="1" height="36" fill="#c0c0c0"/>
<rect x="643" y="630" width="1" height="36" fill="#c0c0c0"/>
<rect x="651" y="630" width="1" height="43" fill="#c0c0c0"/>
<rect x="659" y="630" width="1" height="47" fill="#c0c0c0"/>
<rect x="667" y="630" width="1" height="57" fill="#c0c0c0"/>
<rect x="675" y="630" width="1" height="79" fill="#c0c0c0"/>
<rect x="683" y="630" width="1" height="91" fill="#c0c0c0"/>
<rect x="691" y="630" width="1" height="99" fill="#c0c0c0"/>
<rect x="699" y="630" width="1" height="104" fill="#c0c0c0"/>
<rect x="707" y="630" width="1" height="105" fill="#c0c0c0"/>
<rect x="715" y="630" width="1" height="102" fill="#c0c0c0"/>
<rect x="723" y="630" width="1" height="97" fill="#c0c0c0"/>
<rect x="731" y="630" width="1" height="89" fill="#c0c0c0"/>
<rect x="739" y="630" width="1" height="77" fill="#c0c0c0"/>
<rect x="747" y="630" width="1" height="71" fill="#c0c0c0"/>
<rect x="755" y="630" width="1" height="63" fill="#c0c0c0"/>
<rect x="763" y="630" width="1" height="53" fill="#c0c0c0"/>
<rect x="771" y="630" width="1" height="35" fill="#c0c0c0"/>
<rect x="779" y="630" width="1" height="23" fill="#c0c0c0"/>
<rect x="787" y="630" width="1" height="14" fill="#c0c0c0"/>
<rect x="795" y="630" width="1" height="2" fill="#c0c0c0"/>
<rect x="803" y="621" width="1" height="10" fill="#c0c0c0"/>
<rect x="811" y="612" width="1" height="19" fill="#c0c0c0"/>
<rect x="819" y="607" width="1" height="24" fill="#c0c0c0"/>
<rect x="827" y="605" width="1" height="26" fill="#c0c0c0"/>
<rect x="835" y="604" width="1" height="27" fill="#c0c0c0"/>
<rect x="843" y="600" width="1" height="31" fill="#c0c0c0"/>
<rect x="851" y="595" width="1" height="36" fill="#c0c0c0"/>
<rect x="859" y="595" width="1" height="36" fill="#c0c0c0"/>
<rect x="867" y="595" width="1" height="36" fill="#c0c0c0"/>
<rect x="875" y="594" width="1" height="37" fill="#c0c0c0"/>
<rect x="883" y="594" width="1" height="37" fill="#c0c0c0"/>
<rect x="891" y="597" width="1" height="34" fill="#c0c0c0"/>
<rect x="899" y="598" width="1" height="33" fill="#c0c0c0"/>
<rect x="907" y="599" width="1" height="32" fill="#c0c0c0"/>
<rect x="915" y="602" width="1" height="29" fill="#c0c0c0"/>
<rect x="923" y="613" width="1" height="18" fill="#c0c0c0"/>
<rect x="931" y="621" width="1" height="10" fill="#c0c0c0"/>
<rect x="939" y="629" width="1" height="2" fill="#c0c0c0"/>
<rect x="947" y="630" width="1" height="8" fill="#c0c0c0"/>
<rect x="955" y="630" width="1" height="15" fill="#c0c0c0"/>
<rect x="963" y="630" width="1" height="14" fill="#c0c0c0"/>
<rect x="971" y="630" width="1" height="19" fill="#c0c0c0"/>
<rect x="979" y="630" width="1" height="21" fill="#c0c0c0"/>
<rect x="987" y="630" width="1" height="20" fill="#c0c0c0"/>
<rect x="995" y="630" width="1" height="24" fill="#c0c0c0"/>
<rect x="1003" y="630" width="1" height="25" fill="#c0c0c0"/>
<rect x="1011" y="630" width="1" height="27" fill="#c0c0c0"/>
<rect x="1019" y="630" width="1" height="28" fill="#c0c0c0"/>
<rect x="1027" y="630" width="1" height="28" fill="#c0c0c0"/>
<rect x="1035" y="630" width="1" height="24" fill="#c0c0c0"/>
<rect x="1043" y="630" width="1" height="23" fill="#c0c0c0"/>
<rect x="1051" y="630" width="1" height="25" fill="#c0c0c0"/>
<rect x="1059" y="630" width="1" height="28" fill="#c0c0c0"/>
<rect x="1067" y="630" width="1" height="40" fill="#c0c0c0"/>
<rect x="1075" y="630" width="1" height="54" fill="#c0c0c0"/>
<rect x="1083" y="630" width="1" height="61" fill="#c0c0c0"/>
<rect x="1091" y="630" width="1" height="68" fill="#c0c0c0"/>
<rect x="1099" y="630" width="1" height="72" fill="#c0c0c0"/>
<rect x="1107" y="630" width="1" height="85" fill="#c0c0c0"/>
<rect x="1115" y="630" width="1" height="94" fill="#c0c0c0"/>
<rect x="1123" y="630" width="1" height="97" fill="#c0c0c0"/>
<rect x="1131" y="630" width="1" height="96" fill="#c0c0c0"/>
<rect x="1139" y="630" width="1" height="94" fill="#c0c0c0"/>
<rect x="1147" y="630" width="1" height="90" fill="#c0c0c0"/>
<rect x="1155" y="630" width="1" height="90" fill="#c0c0c0"/>
<rect x="1163" y="630" width="1" height="90" fill="#c0c0c0"/>
<rect x="1171" y="630" width="1" height="92" fill="#c0c0c0"/>
<rect x="1179" y="630" width="1" height="94" fill="#c0c0c0"/>
<rect x="1187" y="630" width="1" height="91" fill="#c0c0c0"/>
<rect x="1195" y="630" width="1" height="91" fill="#c0c0c0"/>
<rect x="1203" y="630" width="1" height="80" fill="#c0c0c0"/>
<rect x="1211" y="630" width="1" height="73" fill="#c0c0c0"/>
<rect x="1219" y="630" width="1" height="65" fill="#c0c0c0"/>
<rect x="1227" y="630" width="1" height="58" fill="#c0c0c0"/>
<rect x="1235" y="630" width="1" height="46" fill="#c0c0c0"/>
<rect x="1243" y="630" width="1" height="35" fill="#c0c0c0"/>
<rect x="1251" y="630" width="1" height="18" fill="#c0c0c0"/>
<rect x="1259" y="630" width="1" height="5" fill="#c0c0c0"/>
<rect x="1267" y="624" width="1" height="7" fill="#c0c0c0"/>
<rect x="1275" y="614" width="1" height="17" fill="#c0c0c0"/>
<rect x="1283" y="608" width="1" height="23" fill="#c0c0c0"/>
<rect x="1291" y="604" width="1" height="27" fill="#c0c0c0"/>
<rect x="1299" y="602" width="1" height="29" fill="#c0c0c0"/>
<rect x="1307" y="603" width="1" height="28" fill="#c0c0c0"/>
<rect x="1315" y="602" width="1" height="29" fill="#c0c0c0"/>
<rect x="1323" y="603" width="1" height="28" fill="#c0c0c0"/>
<rect x="1331" y="603" width="1" height="28" fill="#c0c0c0"/>
<path d="M224 586h3v1h-3zM230 586h3v1h-3zM236 586h3v1h-3zM218 588h3v1h-3zM242 588h3v1h-3zM248 589h2v1h-2zM250 590h1v1h-1zM213 591h2v1h-2zM212 592h1v1h-1zM254 592h1v1h-1zM255 593h2v1h-2zM207 595h2v1h-2zM260 595h2v1h-2zM909 595h3v1h-3zM206 596h1v1h-1zM262 596h1v1h-1zM897 596h3v1h-3zM903 596h3v1h-3zM915 596h3v1h-3zM891 597h3v1h-3zM921 597h1v1h-1zM266 598h1v1h-1zM885 598h3v1h-3zM922 598h2v1h-2zM202 599h1v1h-1zM267 599h2v1h-2zM879 599h3v1h-3zM927 599h2v1h-2zM201 600h1v1h-1zM875 600h1v1h-1zM929 600h1v1h-1zM200 601h1v1h-1zM272 601h2v1h-2zM873 601h2v1h-2zM933 601h1v1h-1zM274 602h1v1h-1zM869 602h1v1h-1zM934 602h2v1h-2zM867 603h2v1h-2zM196 604h1v1h-1zM278 604h2v1h-2zM939 604h1v1h-1zM195 605h1v1h-1zM280 605h1v1h-1zM862 605h2v1h-2zM940 605h2v1h-2zM194 606h1v1h-1zM861 606h1v1h-1zM284 607h3v1h-3zM1328 607h1v1h-1zM857 608h1v1h-1zM945 608h1v1h-1zM290 609h1v1h-1zM856 609h1v1h-1zM946 609h2v1h-2zM1324 609h1v1h-1zM190 610h1v1h-1zM291 610h1v1h-1zM855 610h1v1h-1zM1323 610h1v1h-1zM188 611h2v1h-2zM292 611h1v1h-1zM1322 611h1v1h-1zM951 612h1v1h-1zM296 613h3v1h-3zM851 613h1v1h-1zM952 613h2v1h-2zM1318 613h1v1h-1zM560 614h3v1h-3zM566 614h3v1h-3zM572 614h2v1h-2zM850 614h1v1h-1zM1317 614h1v1h-1zM184 615h1v1h-1zM302 615h1v1h-1zM554 615h3v1h-3zM574 615h1v1h-1zM849 615h1v1h-1zM1316 615h1v1h-1zM183 616h1v1h-1zM303 616h2v1h-2zM578 616h2v1h-2zM957 616h1v1h-1zM182 617h1v1h-1zM308 617h2v1h-2zM548 617h3v1h-3zM580 617h1v1h-1zM845 617h1v1h-1zM958 617h1v1h-1zM310 618h1v1h-1zM584 618h1v1h-1zM844 618h1v1h-1zM959 618h1v1h-1zM1312 618h1v1h-1zM314 619h3v1h-3zM543 619h2v1h-2zM585 619h2v1h-2zM843 619h1v1h-1zM1311 619h1v1h-1zM320 620h1v1h-1zM542 620h1v1h-1zM963 620h1v1h-1zM1310 620h1v1h-1zM178 621h1v1h-1zM321 621h2v1h-2zM964 621h2v1h-2zM178 622h1v1h-1zM326 622h3v1h-3zM538 622h1v1h-1zM590 622h2v1h-2zM839 622h1v1h-1zM177 623h1v1h-1zM332 623h3v1h-3zM536 623h2v1h-2zM592 623h1v1h-1zM838 623h1v1h-1zM338 624h2v1h-2zM837 624h1v1h-1zM969 624h2v1h-2zM1306 624h1v1h-1zM340 625h1v1h-1zM344 625h2v1h-2zM532 625h1v1h-1zM596 625h1v1h-1zM971 625h1v1h-1zM1305 625h1v1h-1zM346 626h1v1h-1zM530 626h2v1h-2zM597 626h2v1h-2zM1304 626h1v1h-1zM173 627h1v1h-1zM350 627h3v1h-3zM172 628h1v1h-1zM356 628h3v1h-3zM833 628h1v1h-1zM975 628h1v1h-1zM171 629h1v1h-1zM362 629h1v1h-1zM525 629h2v1h-2zM602 629h2v1h-2zM832 629h1v1h-1zM976 629h1v1h-1zM363 630h2v1h-2zM524 630h1v1h-1zM604 630h1v1h-1zM831 630h1v1h-1zM977 630h1v1h-1zM1300 630h1v1h-1zM368 631h3v1h-3zM1299 631h1v1h-1zM519 632h2v1h-2zM608 632h1v1h-1zM1299 632h1v1h-1zM167 633h1v1h-1zM374 633h3v1h-3zM518 633h1v1h-1zM609 633h2v1h-2zM981 633h1v1h-1zM166 634h1v1h-1zM828 634h1v1h-1zM982 634h2v1h-2zM165 635h1v1h-1zM380 635h2v1h-2zM514 635h1v1h-1zM827 635h1v1h-1zM382 636h1v1h-1zM512 636h2v1h-2zM614 636h1v1h-1zM826 636h1v1h-1zM1295 636h1v1h-1zM386 637h2v1h-2zM615 637h1v1h-1zM987 637h1v1h-1zM1294 637h1v1h-1zM388 638h1v1h-1zM507 638h2v1h-2zM616 638h1v1h-1zM988 638h1v1h-1zM1293 638h1v1h-1zM161 639h1v1h-1zM392 639h3v1h-3zM506 639h1v1h-1zM989 639h1v1h-1zM160 640h1v1h-1zM620 640h1v1h-1zM823 640h1v1h-1zM159 641h1v1h-1zM398 641h3v1h-3zM502 641h1v1h-1zM621 641h1v1h-1zM822 641h1v1h-1zM993 641h2v1h-2zM404 642h2v1h-2zM500 642h2v1h-2zM622 642h1v1h-1zM822 642h1v1h-1zM995 642h1v1h-1zM1290 642h1v1h-1zM406 643h1v1h-1zM1289 643h1v1h-1zM410 644h1v1h-1zM495 644h2v1h-2zM626 644h1v1h-1zM999 644h3v1h-3zM1289 644h1v1h-1zM155 645h1v1h-1zM411 645h2v1h-2zM494 645h1v1h-1zM627 645h1v1h-1zM154 646h1v1h-1zM628 646h1v1h-1zM819 646h1v1h-1zM1005 646h1v1h-1zM153 647h1v1h-1zM416 647h2v1h-2zM490 647h1v1h-1zM818 647h1v1h-1zM1006 647h1v1h-1zM418 648h1v1h-1zM488 648h2v1h-2zM632 648h1v1h-1zM817 648h1v1h-1zM1007 648h1v1h-1zM1286 648h1v1h-1zM422 649h2v1h-2zM633 649h1v1h-1zM1011 649h2v1h-2zM1285 649h1v1h-1zM424 650h1v1h-1zM483 650h2v1h-2zM634 650h1v1h-1zM1013 650h1v1h-1zM1284 650h1v1h-1zM149 651h1v1h-1zM428 651h3v1h-3zM482 651h1v1h-1zM1017 651h3v1h-3zM148 652h1v1h-1zM478 652h1v1h-1zM638 652h1v1h-1zM814 652h1v1h-1zM1023 652h3v1h-3zM147 653h1v1h-1zM434 653h3v1h-3zM476 653h2v1h-2zM639 653h2v1h-2zM814 653h1v1h-1zM1029 653h3v1h-3zM440 654h3v1h-3zM446 654h1v1h-1zM470 654h3v1h-3zM813 654h1v1h-1zM1035 654h3v1h-3zM1281 654h1v1h-1zM447 655h2v1h-2zM452 655h3v1h-3zM458 655h3v1h-3zM464 655h3v1h-3zM644 655h1v1h-1zM1041 655h3v1h-3zM1047 655h3v1h-3zM1280 655h1v1h-1zM143 656h1v1h-1zM645 656h2v1h-2zM1053 656h3v1h-3zM1059 656h3v1h-3zM1279 656h1v1h-1zM142 657h1v1h-1zM1065 657h3v1h-3zM141 658h1v1h-1zM650 658h1v1h-1zM810 658h1v1h-1zM1071 658h1v1h-1zM651 659h1v1h-1zM809 659h1v1h-1zM1072 659h1v1h-1zM652 660h1v1h-1zM808 660h1v1h-1zM1073 660h1v1h-1zM1276 660h1v1h-1zM137 661h1v1h-1zM1275 661h1v1h-1zM136 662h1v1h-1zM656 662h3v1h-3zM1077 662h3v1h-3zM1274 662h1v1h-1zM135 663h1v1h-1zM662 664h1v1h-1zM805 664h1v1h-1zM1083 664h1v1h-1zM130 665h2v1h-2zM663 665h1v1h-1zM804 665h1v1h-1zM1084 665h2v1h-2zM129 666h1v1h-1zM664 666h1v1h-1zM803 666h1v1h-1zM1271 666h1v1h-1zM1089 667h1v1h-1zM1270 667h1v1h-1zM125 668h1v1h-1zM668 668h2v1h-2zM1090 668h1v1h-1zM1269 668h1v1h-1zM124 669h1v1h-1zM670 669h1v1h-1zM1091 669h1v1h-1zM123 670h1v1h-1zM800 670h1v1h-1zM799 671h1v1h-1zM1095 671h2v1h-2zM674 672h1v1h-1zM799 672h1v1h-1zM1097 672h1v1h-1zM1266 672h1v1h-1zM119 673h1v1h-1zM675 673h1v1h-1zM1265 673h1v1h-1zM117 674h2v1h-2zM676 674h1v1h-1zM1265 674h1v1h-1zM796 676h1v1h-1zM1101 676h1v1h-1zM113 677h1v1h-1zM680 677h1v1h-1zM795 677h1v1h-1zM1102 677h2v1h-2zM112 678h1v1h-1zM681 678h1v1h-1zM794 678h1v1h-1zM1262 678h1v1h-1zM111 679h1v1h-1zM682 679h1v1h-1zM1261 679h1v1h-1zM1260 680h1v1h-1zM106 681h2v1h-2zM1107 681h1v1h-1zM105 682h1v1h-1zM791 682h1v1h-1zM1108 682h1v1h-1zM686 683h1v1h-1zM791 683h1v1h-1zM1109 683h1v1h-1zM101 684h1v1h-1zM687 684h1v1h-1zM790 684h1v1h-1zM1257 684h1v1h-1zM100 685h1v1h-1zM688 685h1v1h-1zM1256 685h1v1h-1zM99 686h1v1h-1zM1255 686h1v1h-1zM1113 687h1v1h-1zM95 688h1v1h-1zM787 688h1v1h-1zM1114 688h1v1h-1zM94 689h1v1h-1zM692 689h1v1h-1zM786 689h1v1h-1zM1115 689h1v1h-1zM93 690h1v1h-1zM693 690h1v1h-1zM785 690h1v1h-1zM1252 690h1v1h-1zM694 691h1v1h-1zM1252 691h1v1h-1zM89 692h1v1h-1zM1251 692h1v1h-1zM87 693h2v1h-2zM1119 693h1v1h-1zM83 694h1v1h-1zM782 694h1v1h-1zM1120 694h1v1h-1zM9 695h3v1h-3zM15 695h3v1h-3zM81 695h2v1h-2zM698 695h1v1h-1zM782 695h1v1h-1zM1121 695h1v1h-1zM5 696h1v1h-1zM21 696h3v1h-3zM27 696h3v1h-3zM33 696h3v1h-3zM39 696h2v1h-2zM75 696h3v1h-3zM699 696h1v1h-1zM781 696h1v1h-1zM1247 696h1v1h-1zM3 697h2v1h-2zM41 697h1v1h-1zM45 697h3v1h-3zM51 697h3v1h-3zM57 697h1v1h-1zM69 697h3v1h-3zM700 697h1v1h-1zM1246 697h1v1h-1zM58 698h2v1h-2zM63 698h3v1h-3zM1245 698h1v1h-1zM1125 699h1v1h-1zM704 700h1v1h-1zM777 700h1v1h-1zM1126 700h2v1h-2zM705 701h1v1h-1zM776 701h1v1h-1zM706 702h1v1h-1zM775 702h1v1h-1zM1241 702h1v1h-1zM1240 703h1v1h-1zM1131 704h1v1h-1zM1239 704h1v1h-1zM1132 705h1v1h-1zM710 706h2v1h-2zM772 706h1v1h-1zM1133 706h1v1h-1zM1235 706h1v1h-1zM712 707h1v1h-1zM771 707h1v1h-1zM1234 707h1v1h-1zM770 708h1v1h-1zM1137 708h1v1h-1zM1233 708h1v1h-1zM1138 709h2v1h-2zM1229 710h1v1h-1zM716 711h1v1h-1zM766 711h1v1h-1zM1143 711h1v1h-1zM1227 711h2v1h-2zM717 712h2v1h-2zM765 712h1v1h-1zM1144 712h2v1h-2zM764 713h1v1h-1zM1221 713h3v1h-3zM1149 714h2v1h-2zM722 715h1v1h-1zM1151 715h1v1h-1zM1215 715h3v1h-3zM723 716h1v1h-1zM760 716h1v1h-1zM724 717h1v1h-1zM758 717h2v1h-2zM1155 717h3v1h-3zM1209 717h3v1h-3zM728 719h1v1h-1zM1161 719h3v1h-3zM1203 719h3v1h-3zM729 720h1v1h-1zM753 720h2v1h-2zM1199 720h1v1h-1zM730 721h1v1h-1zM752 721h1v1h-1zM1167 721h3v1h-3zM1197 721h2v1h-2zM734 722h1v1h-1zM748 722h1v1h-1zM1173 722h3v1h-3zM1192 722h2v1h-2zM735 723h2v1h-2zM746 723h2v1h-2zM1179 723h3v1h-3zM1185 723h3v1h-3zM1191 723h1v1h-1zM740 724h3v1h-3z" fill="#ff0000"/>
<path d="M3 784.5 H1682 M3 835.5 H1682" stroke="#c0c0c0" stroke-width="1" stroke-dasharray="3 3" fill="none"/>
<path d="M168 789h4v1h-4zM161 790h7v1h-7zM172 790h1v1h-1zM158 791h3v1h-3zM173 791h2v1h-2zM147 792h11v1h-11zM175 792h1v1h-1zM186 792h2v1h-2zM1273 792h3v1h-3zM146 793h1v1h-1zM176 793h2v1h-2zM183 793h3v1h-3zM188 793h1v1h-1zM1270 793h3v1h-3zM1276 793h1v1h-1zM146 794h1v1h-1zM178 794h1v1h-1zM181 794h2v1h-2zM189 794h1v1h-1zM808 794h5v1h-5zM1265 794h5v1h-5zM1277 794h2v1h-2zM145 795h1v1h-1zM179 795h2v1h-2zM190 795h1v1h-1zM801 795h7v1h-7zM813 795h1v1h-1zM849 795h3v1h-3zM1251 795h5v1h-5zM1262 795h3v1h-3zM1279 795h1v1h-1zM145 796h1v1h-1zM191 796h1v1h-1zM202 796h10v1h-10zM798 796h3v1h-3zM814 796h3v1h-3zM846 796h3v1h-3zM852 796h2v1h-2zM1250 796h1v1h-1zM1256 796h6v1h-6zM1280 796h2v1h-2zM131 797h1v1h-1zM144 797h1v1h-1zM192 797h1v1h-1zM201 797h1v1h-1zM212 797h1v1h-1zM795 797h3v1h-3zM817 797h1v1h-1zM843 797h3v1h-3zM854 797h2v1h-2zM1249 797h1v1h-1zM1282 797h1v1h-1zM1288 797h5v1h-5zM130 798h1v1h-1zM132 798h1v1h-1zM143 798h1v1h-1zM193 798h1v1h-1zM198 798h3v1h-3zM213 798h1v1h-1zM522 798h2v1h-2zM771 798h2v1h-2zM794 798h1v1h-1zM818 798h3v1h-3zM841 798h2v1h-2zM856 798h1v1h-1zM873 798h5v1h-5zM1249 798h1v1h-1zM1283 798h5v1h-5zM1293 798h2v1h-2zM129 799h1v1h-1zM133 799h1v1h-1zM143 799h1v1h-1zM194 799h1v1h-1zM197 799h1v1h-1zM214 799h1v1h-1zM475 799h2v1h-2zM519 799h3v1h-3zM524 799h2v1h-2zM770 799h1v1h-1zM773 799h1v1h-1zM792 799h2v1h-2zM821 799h2v1h-2zM840 799h1v1h-1zM857 799h2v1h-2zM870 799h3v1h-3zM878 799h3v1h-3zM1248 799h1v1h-1zM1295 799h3v1h-3zM127 800h2v1h-2zM134 800h1v1h-1zM142 800h1v1h-1zM195 800h2v1h-2zM215 800h1v1h-1zM474 800h1v1h-1zM477 800h2v1h-2zM517 800h2v1h-2zM526 800h2v1h-2zM770 800h1v1h-1zM774 800h3v1h-3zM791 800h1v1h-1zM823 800h3v1h-3zM838 800h2v1h-2zM859 800h11v1h-11zM881 800h3v1h-3zM899 800h5v1h-5zM1247 800h1v1h-1zM1298 800h3v1h-3zM126 801h1v1h-1zM135 801h1v1h-1zM141 801h1v1h-1zM215 801h1v1h-1zM474 801h1v1h-1zM479 801h3v1h-3zM506 801h11v1h-11zM528 801h1v1h-1zM769 801h1v1h-1zM777 801h1v1h-1zM789 801h2v1h-2zM826 801h6v1h-6zM836 801h2v1h-2zM884 801h1v1h-1zM898 801h1v1h-1zM904 801h5v1h-5zM1246 801h1v1h-1zM1301 801h2v1h-2zM1313 801h7v1h-7zM1328 801h4v1h-4zM125 802h1v1h-1zM136 802h1v1h-1zM141 802h1v1h-1zM216 802h1v1h-1zM435 802h1v1h-1zM473 802h1v1h-1zM482 802h2v1h-2zM505 802h1v1h-1zM529 802h2v1h-2zM768 802h1v1h-1zM778 802h6v1h-6zM788 802h1v1h-1zM832 802h4v1h-4zM885 802h2v1h-2zM896 802h2v1h-2zM909 802h1v1h-1zM1245 802h1v1h-1zM1303 802h3v1h-3zM1310 802h3v1h-3zM1320 802h8v1h-8zM124 803h1v1h-1zM137 803h1v1h-1zM140 803h1v1h-1zM217 803h1v1h-1zM283 803h1v1h-1zM435 803h2v1h-2zM473 803h1v1h-1zM484 803h1v1h-1zM502 803h3v1h-3zM531 803h5v1h-5zM767 803h1v1h-1zM784 803h4v1h-4zM887 803h1v1h-1zM895 803h1v1h-1zM910 803h3v1h-3zM1245 803h1v1h-1zM1306 803h4v1h-4zM123 804h1v1h-1zM138 804h1v1h-1zM140 804h1v1h-1zM218 804h1v1h-1zM282 804h1v1h-1zM284 804h1v1h-1zM434 804h1v1h-1zM436 804h1v1h-1zM472 804h1v1h-1zM485 804h1v1h-1zM501 804h1v1h-1zM536 804h6v1h-6zM767 804h1v1h-1zM888 804h2v1h-2zM893 804h2v1h-2zM913 804h1v1h-1zM1244 804h1v1h-1zM122 805h1v1h-1zM139 805h1v1h-1zM219 805h9v1h-9zM281 805h1v1h-1zM284 805h1v1h-1zM315 805h1v1h-1zM433 805h1v1h-1zM437 805h1v1h-1zM471 805h1v1h-1zM486 805h1v1h-1zM498 805h3v1h-3zM542 805h3v1h-3zM766 805h1v1h-1zM890 805h1v1h-1zM892 805h1v1h-1zM914 805h2v1h-2zM1235 805h9v1h-9zM121 806h1v1h-1zM228 806h1v1h-1zM280 806h1v1h-1zM285 806h1v1h-1zM313 806h2v1h-2zM316 806h1v1h-1zM433 806h1v1h-1zM438 806h1v1h-1zM471 806h1v1h-1zM487 806h2v1h-2zM497 806h1v1h-1zM545 806h11v1h-11zM765 806h1v1h-1zM891 806h1v1h-1zM916 806h1v1h-1zM1234 806h1v1h-1zM120 807h1v1h-1zM228 807h1v1h-1zM279 807h1v1h-1zM286 807h1v1h-1zM312 807h1v1h-1zM317 807h1v1h-1zM433 807h1v1h-1zM438 807h1v1h-1zM470 807h1v1h-1zM489 807h1v1h-1zM494 807h3v1h-3zM556 807h1v1h-1zM764 807h1v1h-1zM916 807h1v1h-1zM1233 807h1v1h-1zM119 808h1v1h-1zM229 808h1v1h-1zM279 808h1v1h-1zM287 808h1v1h-1zM310 808h2v1h-2zM318 808h1v1h-1zM432 808h1v1h-1zM439 808h1v1h-1zM469 808h1v1h-1zM490 808h1v1h-1zM493 808h1v1h-1zM557 808h1v1h-1zM764 808h1v1h-1zM917 808h1v1h-1zM1233 808h1v1h-1zM118 809h1v1h-1zM230 809h1v1h-1zM256 809h5v1h-5zM278 809h1v1h-1zM287 809h1v1h-1zM308 809h2v1h-2zM319 809h1v1h-1zM431 809h1v1h-1zM440 809h1v1h-1zM469 809h1v1h-1zM491 809h2v1h-2zM558 809h1v1h-1zM763 809h1v1h-1zM917 809h1v1h-1zM1035 809h1v1h-1zM1232 809h1v1h-1zM91 810h2v1h-2zM117 810h1v1h-1zM231 810h1v1h-1zM243 810h13v1h-13zM261 810h2v1h-2zM277 810h1v1h-1zM288 810h1v1h-1zM298 810h10v1h-10zM319 810h1v1h-1zM431 810h1v1h-1zM440 810h1v1h-1zM468 810h1v1h-1zM559 810h1v1h-1zM761 810h2v1h-2zM918 810h1v1h-1zM1034 810h1v1h-1zM1036 810h1v1h-1zM1231 810h1v1h-1zM89 811h2v1h-2zM93 811h2v1h-2zM116 811h1v1h-1zM231 811h1v1h-1zM242 811h1v1h-1zM263 811h3v1h-3zM276 811h1v1h-1zM289 811h1v1h-1zM297 811h1v1h-1zM320 811h1v1h-1zM431 811h1v1h-1zM441 811h1v1h-1zM468 811h1v1h-1zM559 811h1v1h-1zM760 811h1v1h-1zM918 811h1v1h-1zM1033 811h1v1h-1zM1037 811h2v1h-2zM1230 811h1v1h-1zM88 812h1v1h-1zM95 812h3v1h-3zM112 812h4v1h-4zM232 812h1v1h-1zM240 812h2v1h-2zM266 812h10v1h-10zM290 812h1v1h-1zM294 812h3v1h-3zM321 812h1v1h-1zM336 812h6v1h-6zM430 812h1v1h-1zM442 812h1v1h-1zM466 812h2v1h-2zM560 812h1v1h-1zM758 812h2v1h-2zM919 812h1v1h-1zM963 812h1v1h-1zM1032 812h1v1h-1zM1039 812h1v1h-1zM1229 812h1v1h-1zM86 813h2v1h-2zM98 813h14v1h-14zM233 813h1v1h-1zM239 813h1v1h-1zM290 813h1v1h-1zM293 813h1v1h-1zM322 813h1v1h-1zM328 813h8v1h-8zM342 813h3v1h-3zM371 813h1v1h-1zM387 813h1v1h-1zM429 813h1v1h-1zM442 813h1v1h-1zM463 813h3v1h-3zM561 813h1v1h-1zM739 813h1v1h-1zM756 813h2v1h-2zM919 813h1v1h-1zM962 813h1v1h-1zM964 813h1v1h-1zM987 813h1v1h-1zM1031 813h1v1h-1zM1040 813h2v1h-2zM1229 813h1v1h-1zM84 814h2v1h-2zM234 814h1v1h-1zM237 814h2v1h-2zM291 814h2v1h-2zM323 814h5v1h-5zM345 814h11v1h-11zM370 814h1v1h-1zM372 814h1v1h-1zM386 814h1v1h-1zM388 814h1v1h-1zM429 814h1v1h-1zM443 814h13v1h-13zM461 814h2v1h-2zM562 814h1v1h-1zM738 814h1v1h-1zM740 814h2v1h-2zM754 814h2v1h-2zM920 814h1v1h-1zM962 814h1v1h-1zM965 814h1v1h-1zM985 814h2v1h-2zM988 814h1v1h-1zM1031 814h1v1h-1zM1042 814h1v1h-1zM1203 814h2v1h-2zM1228 814h1v1h-1zM80 815h4v1h-4zM234 815h1v1h-1zM236 815h1v1h-1zM356 815h1v1h-1zM369 815h1v1h-1zM373 815h1v1h-1zM385 815h1v1h-1zM389 815h1v1h-1zM429 815h1v1h-1zM456 815h5v1h-5zM563 815h1v1h-1zM737 815h1v1h-1zM742 815h2v1h-2zM753 815h1v1h-1zM920 815h1v1h-1zM961 815h1v1h-1zM966 815h1v1h-1zM984 815h1v1h-1zM989 815h1v1h-1zM1030 815h1v1h-1zM1043 815h2v1h-2zM1203 815h1v1h-1zM1205 815h1v1h-1zM1218 815h10v1h-10zM50 816h30v1h-30zM235 816h1v1h-1zM357 816h2v1h-2zM367 816h2v1h-2zM374 816h1v1h-1zM384 816h1v1h-1zM390 816h1v1h-1zM428 816h1v1h-1zM564 816h2v1h-2zM735 816h2v1h-2zM744 816h1v1h-1zM750 816h3v1h-3zM921 816h1v1h-1zM960 816h1v1h-1zM967 816h1v1h-1zM982 816h2v1h-2zM990 816h1v1h-1zM1029 816h1v1h-1zM1045 816h1v1h-1zM1202 816h1v1h-1zM1206 816h3v1h-3zM1215 816h3v1h-3zM47 817h3v1h-3zM359 817h1v1h-1zM366 817h1v1h-1zM375 817h1v1h-1zM383 817h1v1h-1zM391 817h2v1h-2zM427 817h1v1h-1zM566 817h2v1h-2zM603 817h2v1h-2zM734 817h1v1h-1zM745 817h2v1h-2zM749 817h1v1h-1zM921 817h1v1h-1zM930 817h3v1h-3zM959 817h1v1h-1zM968 817h1v1h-1zM980 817h2v1h-2zM991 817h2v1h-2zM1002 817h4v1h-4zM1028 817h1v1h-1zM1046 817h3v1h-3zM1202 817h1v1h-1zM1209 817h1v1h-1zM1213 817h2v1h-2zM35 818h5v1h-5zM45 818h2v1h-2zM360 818h2v1h-2zM365 818h1v1h-1zM375 818h1v1h-1zM383 818h1v1h-1zM393 818h1v1h-1zM427 818h1v1h-1zM568 818h1v1h-1zM602 818h1v1h-1zM605 818h1v1h-1zM733 818h1v1h-1zM747 818h2v1h-2zM922 818h1v1h-1zM927 818h3v1h-3zM933 818h1v1h-1zM959 818h1v1h-1zM969 818h1v1h-1zM977 818h3v1h-3zM993 818h1v1h-1zM999 818h3v1h-3zM1006 818h3v1h-3zM1024 818h4v1h-4zM1049 818h1v1h-1zM1201 818h1v1h-1zM1210 818h3v1h-3zM33 819h2v1h-2zM40 819h5v1h-5zM362 819h1v1h-1zM364 819h1v1h-1zM376 819h1v1h-1zM382 819h1v1h-1zM394 819h1v1h-1zM426 819h1v1h-1zM569 819h2v1h-2zM600 819h2v1h-2zM606 819h3v1h-3zM732 819h1v1h-1zM922 819h1v1h-1zM925 819h2v1h-2zM934 819h3v1h-3zM958 819h1v1h-1zM970 819h1v1h-1zM974 819h3v1h-3zM994 819h1v1h-1zM997 819h2v1h-2zM1009 819h15v1h-15zM1050 819h4v1h-4zM1201 819h1v1h-1zM32 820h1v1h-1zM363 820h1v1h-1zM377 820h1v1h-1zM381 820h1v1h-1zM395 820h5v1h-5zM424 820h2v1h-2zM571 820h1v1h-1zM599 820h1v1h-1zM609 820h1v1h-1zM731 820h1v1h-1zM923 820h2v1h-2zM937 820h1v1h-1zM957 820h1v1h-1zM971 820h3v1h-3zM995 820h2v1h-2zM1054 820h3v1h-3zM1200 820h1v1h-1zM30 821h2v1h-2zM378 821h1v1h-1zM380 821h1v1h-1zM400 821h6v1h-6zM423 821h1v1h-1zM572 821h1v1h-1zM597 821h2v1h-2zM610 821h6v1h-6zM729 821h2v1h-2zM938 821h3v1h-3zM956 821h1v1h-1zM1057 821h3v1h-3zM1200 821h1v1h-1zM28 822h2v1h-2zM379 822h1v1h-1zM406 822h3v1h-3zM421 822h2v1h-2zM573 822h1v1h-1zM596 822h1v1h-1zM616 822h6v1h-6zM641 822h3v1h-3zM728 822h1v1h-1zM941 822h1v1h-1zM956 822h1v1h-1zM1060 822h1v1h-1zM1199 822h1v1h-1zM27 823h1v1h-1zM409 823h7v1h-7zM420 823h1v1h-1zM574 823h1v1h-1zM586 823h10v1h-10zM622 823h3v1h-3zM638 823h3v1h-3zM644 823h1v1h-1zM726 823h2v1h-2zM942 823h3v1h-3zM953 823h3v1h-3zM1060 823h1v1h-1zM1199 823h1v1h-1zM27 824h1v1h-1zM416 824h4v1h-4zM575 824h2v1h-2zM585 824h1v1h-1zM625 824h13v1h-13zM645 824h1v1h-1zM724 824h2v1h-2zM945 824h1v1h-1zM950 824h3v1h-3zM1061 824h1v1h-1zM1199 824h1v1h-1zM26 825h1v1h-1zM577 825h1v1h-1zM582 825h3v1h-3zM645 825h1v1h-1zM722 825h2v1h-2zM946 825h4v1h-4zM1062 825h1v1h-1zM1198 825h1v1h-1zM25 826h1v1h-1zM578 826h1v1h-1zM581 826h1v1h-1zM646 826h1v1h-1zM719 826h3v1h-3zM1062 826h1v1h-1zM1146 826h3v1h-3zM1198 826h1v1h-1zM25 827h1v1h-1zM579 827h2v1h-2zM647 827h1v1h-1zM717 827h2v1h-2zM1063 827h1v1h-1zM1143 827h3v1h-3zM1149 827h1v1h-1zM1197 827h1v1h-1zM25 828h1v1h-1zM648 828h1v1h-1zM658 828h2v1h-2zM715 828h2v1h-2zM1064 828h1v1h-1zM1131 828h5v1h-5zM1141 828h2v1h-2zM1150 828h3v1h-3zM1187 828h2v1h-2zM1197 828h1v1h-1zM24 829h1v1h-1zM649 829h1v1h-1zM657 829h1v1h-1zM660 829h1v1h-1zM713 829h2v1h-2zM1064 829h1v1h-1zM1130 829h1v1h-1zM1136 829h5v1h-5zM1153 829h1v1h-1zM1186 829h1v1h-1zM1189 829h1v1h-1zM1196 829h1v1h-1zM3 830h5v1h-5zM23 830h1v1h-1zM649 830h1v1h-1zM654 830h3v1h-3zM661 830h1v1h-1zM712 830h1v1h-1zM1065 830h1v1h-1zM1128 830h2v1h-2zM1154 830h4v1h-4zM1185 830h1v1h-1zM1190 830h3v1h-3zM1196 830h1v1h-1zM8 831h4v1h-4zM23 831h1v1h-1zM650 831h1v1h-1zM653 831h1v1h-1zM662 831h1v1h-1zM710 831h2v1h-2zM1066 831h1v1h-1zM1083 831h3v1h-3zM1127 831h1v1h-1zM1158 831h3v1h-3zM1184 831h1v1h-1zM1193 831h1v1h-1zM1195 831h1v1h-1zM12 832h1v1h-1zM23 832h1v1h-1zM651 832h2v1h-2zM663 832h1v1h-1zM708 832h2v1h-2zM1066 832h1v1h-1zM1082 832h1v1h-1zM1086 832h3v1h-3zM1096 832h4v1h-4zM1125 832h2v1h-2zM1161 832h5v1h-5zM1183 832h1v1h-1zM1194 832h2v1h-2zM13 833h1v1h-1zM22 833h1v1h-1zM663 833h1v1h-1zM706 833h2v1h-2zM1067 833h2v1h-2zM1080 833h2v1h-2zM1089 833h7v1h-7zM1100 833h1v1h-1zM1124 833h1v1h-1zM1166 833h3v1h-3zM1182 833h1v1h-1zM14 834h1v1h-1zM21 834h1v1h-1zM664 834h1v1h-1zM705 834h1v1h-1zM1069 834h1v1h-1zM1079 834h1v1h-1zM1101 834h1v1h-1zM1123 834h1v1h-1zM1169 834h5v1h-5zM1181 834h1v1h-1zM15 835h1v1h-1zM21 835h1v1h-1zM665 835h1v1h-1zM702 835h3v1h-3zM1070 835h3v1h-3zM1077 835h2v1h-2zM1102 835h1v1h-1zM1122 835h1v1h-1zM1174 835h3v1h-3zM1180 835h1v1h-1zM16 836h1v1h-1zM21 836h1v1h-1zM666 836h1v1h-1zM701 836h1v1h-1zM1073 836h1v1h-1zM1076 836h1v1h-1zM1103 836h1v1h-1zM1121 836h1v1h-1zM1177 836h3v1h-3zM17 837h1v1h-1zM20 837h1v1h-1zM667 837h1v1h-1zM688 837h13v1h-13zM1074 837h2v1h-2zM1104 837h1v1h-1zM1119 837h2v1h-2zM18 838h2v1h-2zM668 838h1v1h-1zM683 838h5v1h-5zM1105 838h1v1h-1zM1118 838h1v1h-1zM19 839h1v1h-1zM669 839h1v1h-1zM682 839h1v1h-1zM1106 839h1v1h-1zM1117 839h1v1h-1zM669 840h1v1h-1zM681 840h1v1h-1zM1107 840h5v1h-5zM1116 840h1v1h-1zM670 841h1v1h-1zM680 841h1v1h-1zM1112 841h4v1h-4zM671 842h1v1h-1zM679 842h1v1h-1zM672 843h1v1h-1zM679 843h1v1h-1zM673 844h1v1h-1zM678 844h1v1h-1zM673 845h1v1h-1zM677 845h1v1h-1zM674 846h1v1h-1zM676 846h1v1h-1zM675 847h1v1h-1z" fill="#1e90ff"/>
<rect x="3" y="874" width="1" height="3" fill="#000"/>
<rect x="67" y="874" width="1" height="3" fill="#000"/>
<rect x="131" y="874" width="1" height="3" fill="#000"/>
<rect x="195" y="874" width="1" height="3" fill="#000"/>
<rect x="259" y="874" width="1" height="3" fill="#000"/>
<rect x="323" y="874" width="1" height="3" fill="#000"/>
<rect x="387" y="874" width="1" height="3" fill="#000"/>
<rect x="451" y="874" width="1" height="3" fill="#000"/>
<rect x="515" y="874" width="1" height="3" fill="#000"/>
<rect x="579" y="874" width="1" height="3" fill="#000"/>
<rect x="643" y="874" width="1" height="3" fill="#000"/>
<rect x="707" y="874" width="1" height="3" fill="#000"/>
<rect x="771" y="874" width="1" height="3" fill="#000"/>
<rect x="835" y="874" width="1" height="3" fill="#000"/>
<rect x="899" y="874" width="1" height="3" fill="#000"/>
<rect x="963" y="874" width="1" height="3" fill="#000"/>
<rect x="1027" y="874" width="1" height="3" fill="#000"/>
<rect x="1091" y="874" width="1" height="3" fill="#000"/>
<rect x="1155" y="874" width="1" height="3" fill="#000"/>
<rect x="1219" y="874" width="1" height="3" fill="#000"/>
<rect x="1283" y="874" width="1" height="3" fill="#000"/>
<rect x="0" y="894" width="1723" height="1" fill="#e3e3e3"/>
<rect x="0" y="896" width="165" height="1" fill="#000"/>
<rect x="259" y="896" width="1464" height="1" fill="#000"/>
</g>
<path d="M1340.5 31 L1350.5 31 L1345.5 36 Z" fill="#708090"/>
<path d="M6 37 L13.2 37 L9.6 41.2 Z" fill="#000"/>
<text transform="translate(17.60 42) scale(0.9126 1)" font-size="10.2" fill="#000" stroke="#000" stroke-width="0.3" text-rendering="geometricPrecision" xml:space="preserve">XAUUSD-,H4&#160; 1805.72 1807.29 1804.98 1806.15</text>
<text transform="translate(7.20 584.1) scale(0.9226 1)" font-size="10.2" fill="#000" stroke="#000" stroke-width="0.3" text-rendering="geometricPrecision" xml:space="preserve">MACD(12,26,9) 3.783 3.214</text>
<text transform="translate(7.20 758.3) scale(0.9005 1)" font-size="10.2" fill="#000" stroke="#000" stroke-width="0.3" text-rendering="geometricPrecision" xml:space="preserve">RSI(14) 56.6522</text>
<text transform="translate(1689.30 42.1) scale(0.8841 1)" font-size="10.2" fill="#000" stroke="#000" stroke-width="0.3" text-rendering="geometricPrecision" xml:space="preserve">1879.60</text>
<text transform="translate(1689.30 75) scale(0.8841 1)" font-size="10.2" fill="#000" stroke="#000" stroke-width="0.3" text-rendering="geometricPrecision" xml:space="preserve">1872.00</text>
<text transform="translate(1689.30 108.1) scale(0.8841 1)" font-size="10.2" fill="#000" stroke="#000" stroke-width="0.3" text-rendering="geometricPrecision" xml:space="preserve">1864.40</text>
<text transform="translate(1689.30 140.8) scale(0.8841 1)" font-size="10.2" fill="#000" stroke="#000" stroke-width="0.3" text-rendering="geometricPrecision" xml:space="preserve">1857.00</text>
<text transform="translate(1689.30 173.9) scale(0.8841 1)" font-size="10.2" fill="#000" stroke="#000" stroke-width="0.3" text-rendering="geometricPrecision" xml:space="preserve">1849.40</text>
<text transform="translate(1689.30 207) scale(0.8841 1)" font-size="10.2" fill="#000" stroke="#000" stroke-width="0.3" text-rendering="geometricPrecision" xml:space="preserve">1841.80</text>
<text transform="translate(1689.30 240.2) scale(0.8841 1)" font-size="10.2" fill="#000" stroke="#000" stroke-width="0.3" text-rendering="geometricPrecision" xml:space="preserve">1834.20</text>
<text transform="translate(1689.30 273.1) scale(0.8841 1)" font-size="10.2" fill="#000" stroke="#000" stroke-width="0.3" text-rendering="geometricPrecision" xml:space="preserve">1826.60</text>
<text transform="translate(1689.30 306.2) scale(0.8841 1)" font-size="10.2" fill="#000" stroke="#000" stroke-width="0.3" text-rendering="geometricPrecision" xml:space="preserve">1819.00</text>
<text transform="translate(1689.30 338.7) scale(0.9026 1)" font-size="10.2" fill="#000" stroke="#000" stroke-width="0.3" text-rendering="geometricPrecision" xml:space="preserve">1811.40</text>
<text transform="translate(1689.30 371.8) scale(0.8841 1)" font-size="10.2" fill="#000" stroke="#000" stroke-width="0.3" text-rendering="geometricPrecision" xml:space="preserve">1803.80</text>
<text transform="translate(1689.30 404.9) scale(0.8841 1)" font-size="10.2" fill="#000" stroke="#000" stroke-width="0.3" text-rendering="geometricPrecision" xml:space="preserve">1796.20</text>
<text transform="translate(1689.30 438.1) scale(0.8841 1)" font-size="10.2" fill="#000" stroke="#000" stroke-width="0.3" text-rendering="geometricPrecision" xml:space="preserve">1788.60</text>
<text transform="translate(1689.30 471.2) scale(0.8841 1)" font-size="10.2" fill="#000" stroke="#000" stroke-width="0.3" text-rendering="geometricPrecision" xml:space="preserve">1781.00</text>
<text transform="translate(1689.30 503.9) scale(0.8841 1)" font-size="10.2" fill="#000" stroke="#000" stroke-width="0.3" text-rendering="geometricPrecision" xml:space="preserve">1773.40</text>
<text transform="translate(1689.30 570.1) scale(0.8841 1)" font-size="10.2" fill="#000" stroke="#000" stroke-width="0.3" text-rendering="geometricPrecision" xml:space="preserve">1758.20</text>
<text transform="translate(1689.30 83.2) scale(0.8841 1)" font-size="10.2" fill="#fff" stroke="#fff" stroke-width="0.3" text-rendering="geometricPrecision" xml:space="preserve">1870.00</text>
<text transform="translate(1689.30 192.2) scale(0.8841 1)" font-size="10.2" fill="#fff" stroke="#fff" stroke-width="0.3" text-rendering="geometricPrecision" xml:space="preserve">1845.00</text>
<text transform="translate(1689.30 322.2) scale(0.8841 1)" font-size="10.2" fill="#fff" stroke="#fff" stroke-width="0.3" text-rendering="geometricPrecision" xml:space="preserve">1815.00</text>
<text transform="translate(1689.30 361.8) scale(0.8841 1)" font-size="10.2" fill="#fff" stroke="#fff" stroke-width="0.3" text-rendering="geometricPrecision" xml:space="preserve">1806.15</text>
<text transform="translate(1689.30 452) scale(0.8841 1)" font-size="10.2" fill="#fff" stroke="#fff" stroke-width="0.3" text-rendering="geometricPrecision" xml:space="preserve">1785.00</text>
<text transform="translate(1689.30 539) scale(0.8841 1)" font-size="10.2" fill="#fff" stroke="#fff" stroke-width="0.3" text-rendering="geometricPrecision" xml:space="preserve">1765.00</text>
<text transform="translate(1687.20 582.2) scale(0.8895 1)" font-size="10.2" fill="#000" stroke="#000" stroke-width="0.3" text-rendering="geometricPrecision" xml:space="preserve">7.718</text>
<text transform="translate(1687.20 633.7) scale(0.8917 1)" font-size="10.2" fill="#000" stroke="#000" stroke-width="0.3" text-rendering="geometricPrecision" xml:space="preserve">0.00</text>
<text transform="translate(1687.10 740.4) scale(0.9163 1)" font-size="10.2" fill="#000" stroke="#000" stroke-width="0.3" text-rendering="geometricPrecision" xml:space="preserve">-15.116</text>
<text transform="translate(1687.60 756.1) scale(0.8405 1)" font-size="10.2" fill="#000" stroke="#000" stroke-width="0.3" text-rendering="geometricPrecision" xml:space="preserve">100</text>
<text transform="translate(1686.70 788.2) scale(0.7670 1)" font-size="10.2" fill="#000" stroke="#000" stroke-width="0.3" text-rendering="geometricPrecision" xml:space="preserve">70</text>
<text transform="translate(1686.70 839.2) scale(0.7670 1)" font-size="10.2" fill="#000" stroke="#000" stroke-width="0.3" text-rendering="geometricPrecision" xml:space="preserve">30</text>
<text transform="translate(1687.10 869.9) scale(0.8464 1)" font-size="10.2" fill="#000" stroke="#000" stroke-width="0.3" text-rendering="geometricPrecision" xml:space="preserve">0</text>
<text transform="translate(2.40 886) scale(0.8780 1)" font-size="10.2" fill="#000" stroke="#000" stroke-width="0.3" text-rendering="geometricPrecision" xml:space="preserve">15 Jan 2021</text>
<text transform="translate(66.40 886) scale(0.8866 1)" font-size="10.2" fill="#000" stroke="#000" stroke-width="0.3" text-rendering="geometricPrecision" xml:space="preserve">18 Jan 23:00</text>
<text transform="translate(130.40 886) scale(0.8866 1)" font-size="10.2" fill="#000" stroke="#000" stroke-width="0.3" text-rendering="geometricPrecision" xml:space="preserve">20 Jan 04:00</text>
<text transform="translate(194.40 886) scale(0.8866 1)" font-size="10.2" fill="#000" stroke="#000" stroke-width="0.3" text-rendering="geometricPrecision" xml:space="preserve">21 Jan 12:00</text>
<text transform="translate(258.40 886) scale(0.8866 1)" font-size="10.2" fill="#000" stroke="#000" stroke-width="0.3" text-rendering="geometricPrecision" xml:space="preserve">24 Jan 23:00</text>
<text transform="translate(322.40 886) scale(0.8866 1)" font-size="10.2" fill="#000" stroke="#000" stroke-width="0.3" text-rendering="geometricPrecision" xml:space="preserve">26 Jan 04:00</text>
<text transform="translate(386.40 886) scale(0.8866 1)" font-size="10.2" fill="#000" stroke="#000" stroke-width="0.3" text-rendering="geometricPrecision" xml:space="preserve">27 Jan 12:00</text>
<text transform="translate(450.40 886) scale(0.8866 1)" font-size="10.2" fill="#000" stroke="#000" stroke-width="0.3" text-rendering="geometricPrecision" xml:space="preserve">28 Jan 20:00</text>
<text transform="translate(514.40 886) scale(0.9093 1)" font-size="10.2" fill="#000" stroke="#000" stroke-width="0.3" text-rendering="geometricPrecision" xml:space="preserve">1 Feb 04:00</text>
<text transform="translate(578.40 886) scale(0.9093 1)" font-size="10.2" fill="#000" stroke="#000" stroke-width="0.3" text-rendering="geometricPrecision" xml:space="preserve">2 Feb 12:00</text>
<text transform="translate(642.40 886) scale(0.9093 1)" font-size="10.2" fill="#000" stroke="#000" stroke-width="0.3" text-rendering="geometricPrecision" xml:space="preserve">3 Feb 20:00</text>
<text transform="translate(706.40 886) scale(0.9093 1)" font-size="10.2" fill="#000" stroke="#000" stroke-width="0.3" text-rendering="geometricPrecision" xml:space="preserve">5 Feb 04:00</text>
<text transform="translate(770.40 886) scale(0.9093 1)" font-size="10.2" fill="#000" stroke="#000" stroke-width="0.3" text-rendering="geometricPrecision" xml:space="preserve">8 Feb 12:00</text>
<text transform="translate(834.40 886) scale(0.9093 1)" font-size="10.2" fill="#000" stroke="#000" stroke-width="0.3" text-rendering="geometricPrecision" xml:space="preserve">9 Feb 20:00</text>
<text transform="translate(898.40 886) scale(0.9149 1)" font-size="10.2" fill="#000" stroke="#000" stroke-width="0.3" text-rendering="geometricPrecision" xml:space="preserve">11 Feb 04:00</text>
<text transform="translate(962.40 886) scale(0.9032 1)" font-size="10.2" fill="#000" stroke="#000" stroke-width="0.3" text-rendering="geometricPrecision" xml:space="preserve">12 Feb 12:00</text>
<text transform="translate(1026.40 886) scale(0.9032 1)" font-size="10.2" fill="#000" stroke="#000" stroke-width="0.3" text-rendering="geometricPrecision" xml:space="preserve">15 Feb 23:00</text>
<text transform="translate(1090.40 886) scale(0.9032 1)" font-size="10.2" fill="#000" stroke="#000" stroke-width="0.3" text-rendering="geometricPrecision" xml:space="preserve">17 Feb 04:00</text>
<text transform="translate(1154.40 886) scale(0.9032 1)" font-size="10.2" fill="#000" stroke="#000" stroke-width="0.3" text-rendering="geometricPrecision" xml:space="preserve">18 Feb 12:00</text>
<text transform="translate(1218.40 886) scale(0.9032 1)" font-size="10.2" fill="#000" stroke="#000" stroke-width="0.3" text-rendering="geometricPrecision" xml:space="preserve">21 Feb 23:00</text>
<text transform="translate(1282.40 886) scale(0.9032 1)" font-size="10.2" fill="#000" stroke="#000" stroke-width="0.3" text-rendering="geometricPrecision" xml:space="preserve">23 Feb 04:00</text>
<text x="202.7" y="412" font-size="36.5" fill="#ed1c24" text-anchor="start">多空转折点</text>
<text transform="translate(384.9 411.3) scale(1.01 1.1)" font-size="36.5" fill="#ed1c24">1815</text>
</svg>
</body>
</html>
